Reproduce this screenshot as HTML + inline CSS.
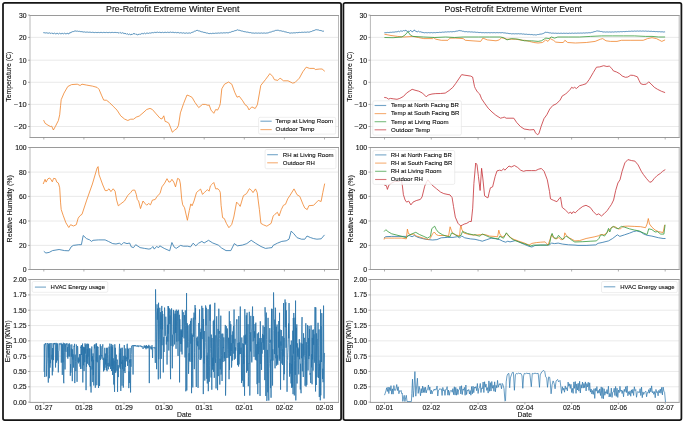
<!DOCTYPE html><html><head><meta charset="utf-8"><style>html,body{margin:0;padding:0;background:#fff;}svg{display:block;will-change:transform}</style></head><body>
<svg width="685" height="423" viewBox="0 0 685 423" font-family='"Liberation Sans", sans-serif'>
<rect x="0" y="0" width="685" height="423" fill="#fff"/>
<rect x="3.0" y="2.8" width="338.10" height="417.2" rx="1.8" ry="1.8" fill="none" stroke="#151515" stroke-width="1.75"/>
<text x="106.00" y="11.80" font-size="8.34" fill="#0d0d0d" stroke="#0d0d0d" stroke-width="0.1" text-anchor="start" textLength="133.44" lengthAdjust="spacingAndGlyphs">Pre-Retrofit Extreme Winter Event</text>
<line x1="30.0" x2="338.5" y1="37.40" y2="37.40" stroke="#e4e4e4" stroke-width="0.8"/>
<line x1="30.0" x2="338.5" y1="60.20" y2="60.20" stroke="#e4e4e4" stroke-width="0.8"/>
<line x1="30.0" x2="338.5" y1="82.30" y2="82.30" stroke="#e4e4e4" stroke-width="0.8"/>
<line x1="30.0" x2="338.5" y1="104.40" y2="104.40" stroke="#e4e4e4" stroke-width="0.8"/>
<line x1="30.0" x2="338.5" y1="126.50" y2="126.50" stroke="#e4e4e4" stroke-width="0.8"/>
<polyline points="43.30,32.61 44.09,32.87 44.87,32.71 45.66,32.99 46.44,32.81 47.23,33.07 48.01,32.97 48.80,33.24 49.61,32.88 50.42,33.50 51.24,32.84 52.05,33.68 52.86,33.00 53.67,33.81 54.49,33.17 55.30,33.86 56.12,33.23 56.95,34.02 57.77,33.26 58.60,33.99 59.42,33.22 60.25,33.84 61.07,33.20 61.90,33.96 62.73,33.31 63.55,33.83 64.38,33.18 65.20,33.93 66.03,33.21 66.85,34.02 67.67,33.21 68.50,34.03 69.33,32.89 70.15,33.21 70.97,32.07 71.80,32.15 72.60,31.61 73.40,31.58 74.20,31.16 75.00,31.09 75.88,30.93 76.76,31.27 77.64,31.12 78.52,31.42 79.40,31.29 80.28,31.62 81.16,31.54 82.04,31.88 82.92,31.76 83.80,32.14 84.58,31.91 85.36,32.22 86.14,31.97 86.91,32.29 87.69,32.05 88.47,32.30 89.25,32.11 90.03,32.43 90.81,32.18 91.59,32.47 92.36,32.26 93.14,32.52 93.92,32.33 94.70,32.62 95.49,32.40 96.27,32.58 97.06,32.36 97.84,32.65 98.63,32.42 99.41,32.64 100.20,32.39 100.99,32.59 101.77,32.40 102.56,32.63 103.34,32.36 104.13,32.58 104.91,32.38 105.70,32.58 106.48,32.37 107.26,32.60 108.04,32.36 108.81,32.65 109.59,32.39 110.37,32.65 111.15,32.40 111.93,32.58 112.71,32.38 113.49,32.58 114.26,32.41 115.04,32.61 115.82,32.38 116.60,32.59 117.42,32.50 118.25,33.07 119.08,32.43 119.90,33.24 120.72,32.45 121.55,33.26 122.38,32.70 123.20,33.44 124.08,32.95 124.96,33.90 125.84,33.41 126.72,34.34 127.60,33.76 128.48,34.60 129.36,34.00 130.24,34.77 131.12,34.16 132.00,34.79 133.10,33.60 134.20,33.94 135.00,33.53 135.80,34.38 136.60,34.11 137.40,35.06 138.19,34.31 138.97,34.75 139.76,33.86 140.54,34.31 141.33,33.55 142.11,34.09 142.90,33.22 143.72,33.84 144.55,33.09 145.38,33.80 146.20,33.12 147.03,33.42 147.85,33.02 148.68,33.41 149.50,32.94 150.31,33.18 151.12,32.70 151.94,32.97 152.75,32.53 153.56,32.76 154.38,32.33 155.19,32.60 156.00,32.14 156.82,32.50 157.65,32.13 158.47,32.50 159.30,32.20 160.12,32.64 160.95,32.29 161.78,32.63 162.60,32.27 163.40,32.64 164.20,32.32 165.00,32.62 165.80,32.22 166.60,32.55 167.40,32.23 168.20,32.54 169.00,32.13 169.80,32.52 170.60,32.09 171.40,32.45 172.22,32.18 173.05,32.61 173.88,32.21 174.70,32.68 175.53,32.40 176.35,32.74 177.18,32.46 178.00,32.85 178.78,32.52 179.56,33.02 180.33,32.69 181.11,33.04 181.89,32.70 182.67,33.17 183.44,32.79 184.22,33.22 185.00,32.96 185.79,33.26 186.57,32.88 187.36,33.26 188.14,32.93 188.93,33.28 189.71,32.92 190.50,33.21 191.31,32.61 192.12,32.49 192.94,31.97 193.75,31.85 194.56,31.21 195.38,31.15 196.19,30.54 197.00,30.45 197.79,30.40 198.57,30.88 199.36,30.90 200.14,31.41 200.93,31.39 201.71,31.87 202.50,31.90 203.32,32.30 204.15,32.31 204.97,32.68 205.80,32.68 206.62,33.10 207.45,33.06 208.28,33.48 209.10,33.46 209.89,33.68 210.68,33.36 211.47,33.61 212.26,33.28 213.05,33.49 213.85,33.25 214.64,33.41 215.43,33.15 216.22,33.29 217.01,33.02 217.80,33.21 218.59,32.97 219.37,33.19 220.16,32.89 220.94,33.09 221.73,32.86 222.51,33.07 223.30,32.79 224.09,33.01 224.87,32.74 225.66,32.90 226.44,32.67 227.23,32.89 228.01,32.64 228.80,32.83 229.60,32.30 230.40,32.33 231.20,31.80 232.00,31.76 232.80,31.31 233.60,31.31 234.40,30.84 235.20,30.76 236.00,30.31 236.80,30.27 237.60,29.79 238.41,30.22 239.22,30.19 240.04,30.61 240.85,30.67 241.66,31.05 242.47,31.09 243.29,31.47 244.10,31.45 244.90,31.88 245.70,31.79 246.50,32.12 247.30,32.05 248.10,32.38 248.90,32.32 249.70,32.68 250.50,32.57 251.30,32.93 252.10,32.87 252.90,33.20 253.69,33.02 254.48,33.22 255.27,32.97 256.06,33.20 256.84,33.02 257.63,33.19 258.42,33.00 259.21,33.22 260.00,32.97 260.79,33.20 261.58,32.96 262.37,33.22 263.16,32.99 263.94,33.20 264.73,32.99 265.52,33.23 266.31,32.99 267.10,33.23 267.86,32.76 268.62,32.73 269.38,32.29 270.15,32.30 270.91,31.87 271.67,31.82 272.43,31.38 273.19,31.39 273.95,30.88 274.72,30.90 275.48,30.42 276.24,30.47 277.00,30.01 277.81,30.37 278.62,30.34 279.44,30.72 280.25,30.63 281.06,31.05 281.88,30.94 282.69,31.36 283.50,31.27 284.32,31.73 285.15,31.74 285.98,32.16 286.80,32.17 287.62,32.55 288.45,32.54 289.28,32.97 290.10,33.02 290.90,33.13 291.70,32.85 292.50,33.02 293.30,32.81 294.10,32.97 294.90,32.69 295.70,32.86 296.50,32.54 297.30,32.75 298.10,32.41 298.90,32.62 299.68,32.33 300.46,32.51 301.24,32.26 302.01,32.47 302.79,32.19 303.57,32.37 304.35,32.12 305.13,32.36 305.91,32.10 306.69,32.24 307.46,31.99 308.24,32.21 309.02,31.94 309.80,32.09 310.62,31.61 311.45,31.52 312.27,30.97 313.10,30.90 313.93,30.40 314.75,30.30 315.57,29.80 316.40,29.71 317.16,29.70 317.92,30.07 318.68,29.99 319.44,30.43 320.20,30.37 320.96,30.77 321.72,30.73 322.48,31.17 323.24,31.09 324.00,31.40" fill="none" stroke="#2a74aa" stroke-width="0.8" stroke-linejoin="round" stroke-opacity="1"/><polyline points="43.60,120.10 45.10,123.30 48.00,125.20 50.40,126.50 51.70,126.20 53.40,130.00 55.50,126.20 58.40,120.50 59.70,114.80 60.60,105.40 61.20,99.70 64.00,93.10 67.80,86.50 71.60,84.60 77.30,84.20 80.10,85.50 82.00,84.20 86.70,85.10 92.40,86.10 97.10,87.40 99.00,89.30 101.80,95.90 103.70,100.10 106.60,100.30 109.40,102.50 113.20,106.30 117.00,110.10 120.70,115.80 124.50,119.00 127.80,120.50 130.70,119.20 133.50,119.20 136.30,117.10 139.20,116.10 143.00,112.90 146.70,109.50 150.00,108.40 152.40,109.50 156.20,113.90 160.00,118.20 161.90,119.00 163.80,115.80 165.10,121.40 167.00,122.00 168.90,123.30 170.40,127.10 172.30,132.20 174.50,130.30 177.00,128.40 178.50,125.20 180.40,112.90 183.60,103.50 187.00,95.00 189.30,95.90 192.10,97.40 195.00,102.50 198.70,107.60 202.50,104.40 205.30,104.40 208.20,105.40 209.10,104.80 211.00,110.10 213.80,113.30 215.70,109.50 217.60,110.10 219.50,106.30 220.30,103.50 221.80,88.80 224.50,84.20 228.60,82.00 231.80,84.20 234.70,92.20 237.00,97.20 239.30,96.30 242.70,100.80 245.00,104.70 247.20,106.20 249.00,109.90 251.80,106.90 255.20,108.50 257.40,104.70 260.80,85.40 265.40,79.70 269.90,73.60 272.60,76.30 274.40,79.70 277.80,80.40 280.10,78.10 283.50,80.80 288.00,80.80 292.60,83.10 294.90,82.60 299.40,78.10 302.80,71.80 306.20,67.20 309.60,68.40 314.10,68.40 315.30,69.50 319.80,69.00 322.10,69.00 324.80,71.30" fill="none" stroke="#f0832a" stroke-width="0.8" stroke-linejoin="round" stroke-opacity="1"/><rect x="258.6" y="117.3" width="77.10" height="16.80" rx="1.5" fill="#fff" fill-opacity="0.8" stroke="#e2e2e2" stroke-width="0.6"/>
<line x1="260.4" x2="271.7" y1="121.2" y2="121.2" stroke="#2a74aa" stroke-width="1.1" stroke-opacity="0.65"/>
<text x="275.60" y="123.05" font-size="5.83" fill="#0d0d0d" stroke="#0d0d0d" stroke-width="0.1" text-anchor="start" textLength="57.44" lengthAdjust="spacingAndGlyphs">Temp at Living Room</text>
<line x1="260.4" x2="271.7" y1="129.6" y2="129.6" stroke="#f0832a" stroke-width="1.1" stroke-opacity="0.65"/>
<text x="275.60" y="131.45" font-size="5.83" fill="#0d0d0d" stroke="#0d0d0d" stroke-width="0.1" text-anchor="start" textLength="38.86" lengthAdjust="spacingAndGlyphs">Outdoor Temp</text>
<line x1="30.0" x2="30.0" y1="15.5" y2="137.5" stroke="#b8b8b8" stroke-width="1"/>
<line x1="338.5" x2="338.5" y1="15.5" y2="137.5" stroke="#b8b8b8" stroke-width="1"/>
<line x1="29.5" x2="339.0" y1="15.5" y2="15.5" stroke="#9a9a9a" stroke-width="1"/>
<line x1="29.5" x2="339.0" y1="137.5" y2="137.5" stroke="#9a9a9a" stroke-width="1"/>
<line x1="28.0" x2="30.0" y1="15.10" y2="15.10" stroke="#8c8c8c" stroke-width="0.7"/>
<text x="26.70" y="17.60" font-size="6.36" fill="#0d0d0d" stroke="#0d0d0d" stroke-width="0.1" text-anchor="end" textLength="7.63" lengthAdjust="spacingAndGlyphs">30</text>
<line x1="28.0" x2="30.0" y1="37.40" y2="37.40" stroke="#8c8c8c" stroke-width="0.7"/>
<text x="26.70" y="39.90" font-size="6.36" fill="#0d0d0d" stroke="#0d0d0d" stroke-width="0.1" text-anchor="end" textLength="7.63" lengthAdjust="spacingAndGlyphs">20</text>
<line x1="28.0" x2="30.0" y1="60.20" y2="60.20" stroke="#8c8c8c" stroke-width="0.7"/>
<text x="26.70" y="62.70" font-size="6.36" fill="#0d0d0d" stroke="#0d0d0d" stroke-width="0.1" text-anchor="end" textLength="7.63" lengthAdjust="spacingAndGlyphs">10</text>
<line x1="28.0" x2="30.0" y1="82.30" y2="82.30" stroke="#8c8c8c" stroke-width="0.7"/>
<text x="26.70" y="84.80" font-size="6.36" fill="#0d0d0d" stroke="#0d0d0d" stroke-width="0.1" text-anchor="end" textLength="3.82" lengthAdjust="spacingAndGlyphs">0</text>
<line x1="28.0" x2="30.0" y1="104.40" y2="104.40" stroke="#8c8c8c" stroke-width="0.7"/>
<text x="26.70" y="106.90" font-size="6.36" fill="#0d0d0d" stroke="#0d0d0d" stroke-width="0.1" text-anchor="end" textLength="12.66" lengthAdjust="spacingAndGlyphs">−10</text>
<line x1="28.0" x2="30.0" y1="126.50" y2="126.50" stroke="#8c8c8c" stroke-width="0.7"/>
<text x="26.70" y="129.00" font-size="6.36" fill="#0d0d0d" stroke="#0d0d0d" stroke-width="0.1" text-anchor="end" textLength="12.66" lengthAdjust="spacingAndGlyphs">−20</text>
<line x1="43.80" x2="43.80" y1="137.5" y2="139.5" stroke="#8c8c8c" stroke-width="0.7"/>
<line x1="83.90" x2="83.90" y1="137.5" y2="139.5" stroke="#8c8c8c" stroke-width="0.7"/>
<line x1="124.00" x2="124.00" y1="137.5" y2="139.5" stroke="#8c8c8c" stroke-width="0.7"/>
<line x1="164.10" x2="164.10" y1="137.5" y2="139.5" stroke="#8c8c8c" stroke-width="0.7"/>
<line x1="204.20" x2="204.20" y1="137.5" y2="139.5" stroke="#8c8c8c" stroke-width="0.7"/>
<line x1="244.30" x2="244.30" y1="137.5" y2="139.5" stroke="#8c8c8c" stroke-width="0.7"/>
<line x1="284.40" x2="284.40" y1="137.5" y2="139.5" stroke="#8c8c8c" stroke-width="0.7"/>
<line x1="324.50" x2="324.50" y1="137.5" y2="139.5" stroke="#8c8c8c" stroke-width="0.7"/>
<g transform="translate(11.20,76.80) rotate(-90)"><text x="0.00" y="0.00" font-size="6.52" fill="#0d0d0d" stroke="#0d0d0d" stroke-width="0.1" text-anchor="middle" textLength="50.01" lengthAdjust="spacingAndGlyphs">Temperature (C)</text></g>
<line x1="30.0" x2="338.5" y1="172.10" y2="172.10" stroke="#e4e4e4" stroke-width="0.8"/>
<line x1="30.0" x2="338.5" y1="196.40" y2="196.40" stroke="#e4e4e4" stroke-width="0.8"/>
<line x1="30.0" x2="338.5" y1="221.00" y2="221.00" stroke="#e4e4e4" stroke-width="0.8"/>
<line x1="30.0" x2="338.5" y1="245.40" y2="245.40" stroke="#e4e4e4" stroke-width="0.8"/>
<polyline points="43.80,251.30 45.90,253.00 49.20,252.40 52.50,250.60 59.10,249.50 64.60,250.60 68.90,250.80 71.10,246.90 73.30,245.40 78.80,244.70 81.40,244.70 83.20,235.50 86.50,238.60 89.70,239.90 91.50,241.40 93.00,240.30 98.50,239.90 105.10,239.90 108.40,241.40 112.70,243.60 116.00,244.00 119.30,243.20 121.50,244.70 123.70,242.50 127.00,243.60 129.60,243.00 131.30,246.90 133.50,247.60 135.70,244.70 140.10,247.60 144.50,248.40 148.90,249.10 151.00,248.60 152.80,246.50 154.30,249.10 156.50,246.50 158.70,247.60 159.80,245.80 164.20,248.40 169.70,250.80 171.90,242.50 174.00,246.90 176.20,248.40 180.60,245.40 183.30,246.20 187.70,246.20 190.50,246.90 193.10,243.20 195.80,245.80 198.60,243.20 201.90,241.40 204.10,243.00 208.50,240.30 212.80,243.00 218.30,245.10 221.60,248.00 226.00,250.60 230.80,250.60 234.30,243.60 237.40,245.80 242.40,245.10 246.80,243.60 251.20,240.30 255.50,243.20 261.00,246.50 265.40,248.40 268.70,248.00 272.00,247.60 273.10,245.40 277.40,243.20 281.80,241.40 286.20,240.80 289.00,239.20 291.20,231.10 293.90,233.80 297.10,237.70 301.50,239.20 304.80,239.20 307.00,236.00 310.30,237.50 313.60,238.60 316.90,239.20 321.20,238.80 324.50,234.90" fill="none" stroke="#2a74aa" stroke-width="0.8" stroke-linejoin="round" stroke-opacity="1"/><polyline points="43.20,184.00 45.10,179.30 46.10,182.10 48.00,178.70 49.80,178.00 51.20,179.90 52.30,181.80 53.60,178.40 55.50,178.70 56.80,182.10 58.40,183.10 59.70,187.80 60.60,202.90 61.20,209.50 63.10,215.20 65.90,222.80 68.80,227.50 70.60,224.70 73.50,226.00 76.30,224.70 78.20,218.10 80.10,215.60 82.00,214.30 86.70,200.10 92.40,184.00 97.10,168.00 98.10,166.60 99.00,174.60 102.80,185.00 105.20,190.60 107.10,190.60 109.00,188.80 110.90,191.60 113.20,188.80 115.10,191.20 116.60,200.10 118.30,205.80 120.70,203.90 124.50,201.00 125.00,200.10 127.80,195.40 130.70,192.50 132.60,190.10 134.80,190.10 136.30,194.40 137.30,199.50 138.60,201.00 140.50,208.60 143.00,201.00 145.40,203.90 146.70,205.20 148.60,203.50 150.50,204.80 152.40,200.10 155.20,199.50 157.10,196.30 160.00,193.50 161.90,186.90 164.70,183.10 167.00,178.70 168.90,182.10 170.40,181.80 171.90,179.30 173.80,182.10 175.50,186.90 177.60,178.40 179.40,179.30 180.40,184.00 181.70,199.10 182.70,204.80 184.50,207.70 187.40,220.30 189.30,210.50 190.80,203.90 192.10,205.80 194.00,201.00 196.50,192.50 198.70,190.60 200.60,189.10 202.50,194.40 204.40,192.50 206.30,190.60 207.60,189.70 209.10,191.20 210.40,185.90 212.30,184.00 213.80,182.50 215.70,188.80 218.00,188.80 219.50,190.60 220.30,192.60 221.10,205.30 222.60,217.70 224.30,218.50 226.40,223.40 228.90,227.70 231.70,224.50 233.80,217.00 236.60,202.10 238.70,204.30 240.20,206.40 243.40,195.70 246.60,193.60 249.40,188.70 251.50,190.40 253.00,192.60 255.50,188.90 257.20,192.60 259.40,209.60 260.90,223.40 263.60,224.90 266.80,226.20 271.10,223.40 273.20,216.00 274.90,214.30 277.40,212.30 279.10,216.00 281.30,209.60 283.40,205.30 285.50,204.30 287.70,198.90 290.20,195.10 294.00,188.90 297.00,194.70 299.80,196.40 303.00,204.30 304.70,207.90 307.20,209.60 308.90,205.70 313.60,205.30 318.30,200.40 321.10,201.50 322.80,192.60 324.70,183.60" fill="none" stroke="#f0832a" stroke-width="0.8" stroke-linejoin="round" stroke-opacity="1"/><rect x="265.1" y="149.5" width="70.90" height="19.20" rx="1.5" fill="#fff" fill-opacity="0.8" stroke="#e2e2e2" stroke-width="0.6"/>
<line x1="267.2" x2="277.9" y1="154.7" y2="154.7" stroke="#2a74aa" stroke-width="1.1" stroke-opacity="0.65"/>
<text x="282.80" y="156.55" font-size="5.83" fill="#0d0d0d" stroke="#0d0d0d" stroke-width="0.1" text-anchor="start" textLength="50.74" lengthAdjust="spacingAndGlyphs">RH at Living Room</text>
<line x1="267.2" x2="277.9" y1="162.8" y2="162.8" stroke="#f0832a" stroke-width="1.1" stroke-opacity="0.65"/>
<text x="282.80" y="164.65" font-size="5.83" fill="#0d0d0d" stroke="#0d0d0d" stroke-width="0.1" text-anchor="start" textLength="32.16" lengthAdjust="spacingAndGlyphs">Outdoor RH</text>
<line x1="30.0" x2="30.0" y1="147.5" y2="269.5" stroke="#b8b8b8" stroke-width="1"/>
<line x1="338.5" x2="338.5" y1="147.5" y2="269.5" stroke="#b8b8b8" stroke-width="1"/>
<line x1="29.5" x2="339.0" y1="147.5" y2="147.5" stroke="#9a9a9a" stroke-width="1"/>
<line x1="29.5" x2="339.0" y1="269.5" y2="269.5" stroke="#9a9a9a" stroke-width="1"/>
<line x1="28.0" x2="30.0" y1="147.50" y2="147.50" stroke="#8c8c8c" stroke-width="0.7"/>
<text x="26.70" y="150.00" font-size="6.36" fill="#0d0d0d" stroke="#0d0d0d" stroke-width="0.1" text-anchor="end" textLength="11.45" lengthAdjust="spacingAndGlyphs">100</text>
<line x1="28.0" x2="30.0" y1="172.10" y2="172.10" stroke="#8c8c8c" stroke-width="0.7"/>
<text x="26.70" y="174.60" font-size="6.36" fill="#0d0d0d" stroke="#0d0d0d" stroke-width="0.1" text-anchor="end" textLength="7.63" lengthAdjust="spacingAndGlyphs">80</text>
<line x1="28.0" x2="30.0" y1="196.40" y2="196.40" stroke="#8c8c8c" stroke-width="0.7"/>
<text x="26.70" y="198.90" font-size="6.36" fill="#0d0d0d" stroke="#0d0d0d" stroke-width="0.1" text-anchor="end" textLength="7.63" lengthAdjust="spacingAndGlyphs">60</text>
<line x1="28.0" x2="30.0" y1="221.00" y2="221.00" stroke="#8c8c8c" stroke-width="0.7"/>
<text x="26.70" y="223.50" font-size="6.36" fill="#0d0d0d" stroke="#0d0d0d" stroke-width="0.1" text-anchor="end" textLength="7.63" lengthAdjust="spacingAndGlyphs">40</text>
<line x1="28.0" x2="30.0" y1="245.40" y2="245.40" stroke="#8c8c8c" stroke-width="0.7"/>
<text x="26.70" y="247.90" font-size="6.36" fill="#0d0d0d" stroke="#0d0d0d" stroke-width="0.1" text-anchor="end" textLength="7.63" lengthAdjust="spacingAndGlyphs">20</text>
<line x1="28.0" x2="30.0" y1="269.50" y2="269.50" stroke="#8c8c8c" stroke-width="0.7"/>
<text x="26.70" y="272.00" font-size="6.36" fill="#0d0d0d" stroke="#0d0d0d" stroke-width="0.1" text-anchor="end" textLength="3.82" lengthAdjust="spacingAndGlyphs">0</text>
<line x1="43.80" x2="43.80" y1="269.5" y2="271.5" stroke="#8c8c8c" stroke-width="0.7"/>
<line x1="83.90" x2="83.90" y1="269.5" y2="271.5" stroke="#8c8c8c" stroke-width="0.7"/>
<line x1="124.00" x2="124.00" y1="269.5" y2="271.5" stroke="#8c8c8c" stroke-width="0.7"/>
<line x1="164.10" x2="164.10" y1="269.5" y2="271.5" stroke="#8c8c8c" stroke-width="0.7"/>
<line x1="204.20" x2="204.20" y1="269.5" y2="271.5" stroke="#8c8c8c" stroke-width="0.7"/>
<line x1="244.30" x2="244.30" y1="269.5" y2="271.5" stroke="#8c8c8c" stroke-width="0.7"/>
<line x1="284.40" x2="284.40" y1="269.5" y2="271.5" stroke="#8c8c8c" stroke-width="0.7"/>
<line x1="324.50" x2="324.50" y1="269.5" y2="271.5" stroke="#8c8c8c" stroke-width="0.7"/>
<g transform="translate(12.10,208.80) rotate(-90)"><text x="0.00" y="0.00" font-size="6.52" fill="#0d0d0d" stroke="#0d0d0d" stroke-width="0.1" text-anchor="middle" textLength="67.24" lengthAdjust="spacingAndGlyphs">Relative Humidity (%)</text></g>
<line x1="30.0" x2="338.5" y1="386.79" y2="386.79" stroke="#e4e4e4" stroke-width="0.8"/>
<line x1="30.0" x2="338.5" y1="371.48" y2="371.48" stroke="#e4e4e4" stroke-width="0.8"/>
<line x1="30.0" x2="338.5" y1="356.16" y2="356.16" stroke="#e4e4e4" stroke-width="0.8"/>
<line x1="30.0" x2="338.5" y1="340.85" y2="340.85" stroke="#e4e4e4" stroke-width="0.8"/>
<line x1="30.0" x2="338.5" y1="325.54" y2="325.54" stroke="#e4e4e4" stroke-width="0.8"/>
<line x1="30.0" x2="338.5" y1="310.23" y2="310.23" stroke="#e4e4e4" stroke-width="0.8"/>
<line x1="30.0" x2="338.5" y1="294.91" y2="294.91" stroke="#e4e4e4" stroke-width="0.8"/>
<polyline points="43.80,371.48 44.05,371.48 44.30,344.25 44.55,364.02 44.80,377.01 45.05,343.59 45.30,343.73 45.55,344.36 45.80,343.01 46.05,344.11 46.30,347.94 46.55,376.44 46.80,364.49 47.05,360.03 47.30,344.31 47.55,343.03 47.80,343.46 48.05,358.51 48.30,382.57 48.55,344.15 48.80,357.49 49.05,343.45 49.30,378.22 49.55,352.51 49.80,343.47 50.05,367.64 50.30,360.06 50.55,363.18 50.80,343.13 51.05,343.63 51.30,343.30 51.55,354.82 51.80,359.58 52.05,354.43 52.30,375.34 52.55,347.99 52.80,371.52 53.05,343.24 53.30,347.10 53.55,360.12 53.80,343.30 54.05,343.68 54.30,344.31 54.55,343.11 54.80,344.07 55.05,342.92 55.30,343.70 55.55,367.49 55.80,349.47 56.05,343.76 56.30,342.90 56.55,362.58 56.80,344.10 57.05,343.63 57.30,360.52 57.55,343.76 57.80,343.48 58.05,352.66 58.30,372.38 58.55,364.36 58.80,351.02 59.05,350.69 59.30,343.79 59.55,343.36 59.80,344.40 60.05,344.23 60.30,344.43 60.55,344.25 60.80,343.86 61.05,342.92 61.30,362.62 61.55,343.89 61.80,344.30 62.05,347.10 62.30,374.83 62.55,344.34 62.80,344.04 63.05,362.38 63.30,342.78 63.55,381.03 63.80,383.23 64.05,365.75 64.30,352.56 64.55,343.85 64.80,343.11 65.05,369.41 65.30,344.12 65.55,347.25 65.80,350.54 66.05,351.75 66.30,343.57 66.55,344.47 66.80,344.01 67.05,343.25 67.30,357.13 67.55,347.19 67.80,358.65 68.05,344.11 68.30,344.15 68.55,348.81 68.80,356.54 69.05,350.66 69.30,343.31 69.55,350.98 69.80,356.57 70.05,344.59 70.30,375.74 70.55,364.20 70.80,372.62 71.05,368.35 71.30,348.50 71.55,356.66 71.80,344.36 72.05,359.40 72.30,381.15 72.55,349.34 72.80,359.54 73.05,354.32 73.30,355.46 73.55,367.60 73.80,347.63 74.05,345.83 74.30,346.86 74.55,343.85 74.80,383.09 75.05,354.86 75.30,354.61 75.55,361.70 75.80,371.13 76.05,368.11 76.30,344.53 76.55,346.52 76.80,361.25 77.05,381.80 77.30,357.06 77.55,345.99 77.80,347.73 78.05,362.15 78.30,357.51 78.55,363.33 78.80,362.19 79.05,358.75 79.30,361.68 79.55,354.17 79.80,355.37 80.05,366.70 80.30,354.14 80.55,368.96 80.80,346.72 81.05,347.95 81.30,345.32 81.55,354.99 81.80,345.04 82.05,368.85 82.30,353.70 82.55,343.59 82.80,382.47 83.05,356.18 83.30,346.78 83.55,365.24 83.80,347.47 84.05,371.12 84.30,363.38 84.55,347.39 84.80,362.06 85.05,343.39 85.30,353.62 85.55,347.80 85.80,344.65 86.05,390.14 86.30,354.73 86.55,366.72 86.80,343.80 87.05,358.60 87.30,349.07 87.55,363.66 87.80,343.68 88.05,356.75 88.30,344.18 88.55,344.14 88.80,365.24 89.05,354.45 89.30,348.63 89.55,367.09 89.80,348.44 90.05,348.19 90.30,386.37 90.55,366.15 90.80,368.21 91.05,392.52 91.30,349.33 91.55,361.35 91.80,346.52 92.05,369.52 92.30,363.53 92.55,356.14 92.80,382.05 93.05,353.42 93.30,375.07 93.55,359.79 93.80,385.46 94.05,348.63 94.30,344.89 94.55,348.43 94.80,344.27 95.05,359.15 95.30,387.72 95.55,383.06 95.80,346.69 96.05,343.53 96.30,361.42 96.55,343.51 96.80,385.27 97.05,347.09 97.30,362.24 97.55,346.33 97.80,347.81 98.05,346.98 98.30,349.29 98.55,387.92 98.80,361.75 99.05,359.39 99.30,355.32 99.55,385.92 99.80,368.73 100.05,359.66 100.30,344.31 100.55,359.95 100.80,356.55 101.05,346.22 101.30,356.13 101.55,356.29 101.80,355.07 102.05,358.74 102.30,349.23 102.55,347.22 102.80,344.31 103.05,359.94 103.30,358.97 103.55,371.41 103.80,357.73 104.05,361.64 104.30,370.26 104.55,366.84 104.80,347.80 105.05,367.70 105.30,353.55 105.55,364.45 105.80,358.91 106.05,360.14 106.30,370.05 106.55,347.87 106.80,365.88 107.05,371.25 107.30,347.78 107.55,358.76 107.80,366.13 108.05,362.94 108.30,369.30 108.55,367.81 108.80,354.27 109.05,346.61 109.30,353.69 109.55,366.54 109.80,343.63 110.05,345.86 110.30,346.22 110.55,369.04 110.80,362.13 111.05,358.55 111.30,343.93 111.55,371.02 111.80,346.41 112.05,365.93 112.30,347.32 112.55,374.90 112.80,344.83 113.05,369.27 113.30,358.37 113.55,366.15 113.80,384.49 114.05,360.65 114.30,383.74 114.55,391.88 114.80,344.31 115.05,372.86 115.30,347.80 115.55,367.99 115.80,372.41 116.05,356.56 116.30,354.69 116.55,361.38 116.80,370.57 117.05,363.19 117.30,359.63 117.55,391.86 117.80,369.14 118.05,365.16 118.30,377.07 118.55,366.69 118.80,365.95 119.05,364.23 119.30,348.43 119.55,343.88 119.80,367.43 120.05,353.16 120.30,368.91 120.55,348.87 120.80,390.96 121.05,347.84 121.30,355.17 121.55,363.89 121.80,361.84 122.05,385.66 122.30,347.73 122.55,369.16 122.80,359.91 123.05,367.51 123.30,387.59 123.55,383.35 123.80,355.88 124.05,371.07 124.30,345.08 124.55,362.78 124.80,371.47 125.05,373.04 125.30,355.76 125.55,366.91 125.80,348.48 126.05,358.94 126.30,358.21 126.55,357.42 126.80,361.34 127.05,344.63 127.30,343.79 127.55,365.89 127.80,347.88 128.05,358.64 128.30,348.99 128.55,360.76 128.80,388.12 129.05,371.28 129.30,383.04 129.55,359.63 129.80,362.74 130.05,347.91 130.30,358.53 130.55,392.45 130.80,359.08 131.05,366.75 131.30,354.48 131.55,345.86 131.80,346.17 132.05,345.75 132.30,345.65 132.55,345.29 132.80,346.03 133.05,374.54 133.30,345.29 133.55,345.66 133.80,346.12 134.05,345.02 134.30,346.02 134.55,345.29 134.80,346.19 135.05,346.23 135.30,345.46 135.55,346.17 135.80,345.23 136.05,345.92 136.30,346.40 136.55,346.38 136.80,346.12 137.05,345.78 137.30,345.39 137.55,346.59 137.80,346.25 138.05,346.54 138.30,345.45 138.55,346.70 138.80,346.86 139.05,346.87 139.30,346.41 139.55,345.69 139.80,345.74 140.05,345.98 140.30,345.62 140.55,345.74 140.80,346.65 141.05,346.89 141.30,345.81 141.55,346.12 141.80,347.19 142.05,346.29 142.30,346.73 142.55,346.77 142.80,346.85 143.05,348.95 143.30,347.53 143.55,347.40 143.80,347.10 144.05,345.76 144.30,346.54 144.55,347.55 144.80,345.46 145.05,347.79 145.30,348.01 145.55,345.87 145.80,348.21 146.05,349.23 146.30,347.24 146.55,345.16 146.80,348.09 147.05,345.94 147.30,346.62 147.55,348.19 147.80,346.91 148.05,346.04 148.30,348.27 148.55,347.68 148.80,344.88 149.05,348.33 149.30,383.11 149.55,347.83 149.80,346.00 150.05,345.87 150.30,347.85 150.55,348.17 150.80,348.56 151.05,346.97 151.30,349.45 151.55,347.99 151.80,346.02 152.05,345.20 152.30,349.45 152.55,358.00 152.80,347.51 153.05,348.04 153.30,347.80 153.55,347.53 153.80,347.47 154.05,347.39 154.30,347.27 154.55,347.57 154.80,348.39 155.05,347.36 155.30,362.89 155.55,289.40 155.80,310.81 156.05,312.04 156.30,331.04 156.55,369.17 156.80,332.99 157.05,304.32 157.30,319.66 157.55,308.56 157.80,323.81 158.05,345.86 158.30,379.34 158.55,302.76 158.80,359.23 159.05,351.89 159.30,339.81 159.55,320.91 159.80,307.76 160.05,340.98 160.30,378.53 160.55,312.17 160.80,329.01 161.05,315.31 161.30,358.80 161.55,311.78 161.80,305.93 162.05,345.23 162.30,310.99 162.55,329.36 162.80,313.98 163.05,335.68 163.30,372.42 163.55,338.37 163.80,337.13 164.05,351.96 164.30,336.95 164.55,307.60 164.80,316.52 165.05,335.30 165.30,335.78 165.55,334.27 165.80,316.72 166.05,329.32 166.30,344.52 166.55,336.75 166.80,342.95 167.05,364.57 167.30,343.98 167.55,324.79 167.80,341.54 168.05,306.04 168.30,333.67 168.55,306.40 168.80,350.49 169.05,324.25 169.30,308.35 169.55,313.09 169.80,324.12 170.05,315.53 170.30,364.69 170.55,379.20 170.80,309.55 171.05,345.84 171.30,326.10 171.55,308.39 171.80,311.39 172.05,329.69 172.30,368.29 172.55,335.24 172.80,334.66 173.05,346.33 173.30,333.48 173.55,309.92 173.80,334.34 174.05,313.63 174.30,317.93 174.55,344.45 174.80,332.91 175.05,311.94 175.30,310.83 175.55,332.88 175.80,313.79 176.05,348.78 176.30,309.62 176.55,326.80 176.80,341.64 177.05,333.42 177.30,321.73 177.55,310.84 177.80,345.17 178.05,355.94 178.30,309.75 178.55,310.81 178.80,314.73 179.05,341.23 179.30,314.84 179.55,382.37 179.80,319.21 180.05,328.24 180.30,342.32 180.55,343.80 180.80,329.44 181.05,351.64 181.30,330.99 181.55,344.09 181.80,329.62 182.05,354.41 182.30,309.82 182.55,337.05 182.80,334.78 183.05,313.08 183.30,312.22 183.55,314.51 183.80,330.83 184.05,338.36 184.30,322.15 184.55,315.10 184.80,332.84 185.05,357.44 185.30,310.34 185.55,325.48 185.80,391.30 186.05,387.47 186.30,340.64 186.55,293.08 186.80,390.38 187.05,353.34 187.30,323.31 187.55,330.27 187.80,347.52 188.05,325.27 188.30,341.62 188.55,373.79 188.80,364.33 189.05,353.16 189.30,360.67 189.55,347.37 189.80,324.18 190.05,361.83 190.30,327.71 190.55,320.89 190.80,343.66 191.05,332.40 191.30,318.34 191.55,393.18 191.80,333.51 192.05,362.05 192.30,334.90 192.55,370.67 192.80,387.42 193.05,320.13 193.30,317.73 193.55,336.74 193.80,336.13 194.05,312.65 194.30,369.15 194.55,352.54 194.80,326.82 195.05,305.05 195.30,319.48 195.55,308.22 195.80,334.87 196.05,366.18 196.30,386.99 196.55,339.11 196.80,337.84 197.05,345.03 197.30,336.65 197.55,346.22 197.80,341.33 198.05,387.87 198.30,359.43 198.55,356.97 198.80,323.05 199.05,349.61 199.30,324.87 199.55,309.42 199.80,336.67 200.05,359.87 200.30,348.93 200.55,332.17 200.80,359.86 201.05,328.68 201.30,358.35 201.55,322.93 201.80,305.81 202.05,338.98 202.30,339.08 202.55,323.21 202.80,307.91 203.05,318.11 203.30,394.07 203.55,318.96 203.80,348.76 204.05,363.46 204.30,331.00 204.55,361.15 204.80,380.58 205.05,349.54 205.30,342.52 205.55,305.47 205.80,306.46 206.05,325.51 206.30,307.80 206.55,362.13 206.80,378.80 207.05,355.51 207.30,383.48 207.55,352.71 207.80,351.86 208.05,309.26 208.30,391.18 208.55,359.32 208.80,336.67 209.05,339.21 209.30,381.72 209.55,365.85 209.80,304.86 210.05,320.74 210.30,304.56 210.55,348.35 210.80,353.70 211.05,377.49 211.30,334.62 211.55,349.48 211.80,389.71 212.05,337.96 212.30,356.06 212.55,369.64 212.80,357.65 213.05,366.02 213.30,321.08 213.55,371.92 213.80,356.61 214.05,319.78 214.30,377.80 214.55,317.90 214.80,302.84 215.05,358.55 215.30,358.55 215.55,362.81 215.80,335.34 216.05,388.38 216.30,358.36 216.55,316.50 216.80,316.25 217.05,336.80 217.30,339.05 217.55,390.15 217.80,347.41 218.05,328.92 218.30,376.12 218.55,346.81 218.80,308.73 219.05,333.84 219.30,330.96 219.55,338.71 219.80,384.59 220.05,358.69 220.30,369.35 220.55,339.15 220.80,315.68 221.05,374.57 221.30,372.83 221.55,355.56 221.80,333.69 222.05,380.97 222.30,364.06 222.55,359.93 222.80,333.66 223.05,361.94 223.30,347.12 223.55,348.10 223.80,337.42 224.05,351.53 224.30,358.27 224.55,352.13 224.80,361.23 225.05,353.38 225.30,324.94 225.55,395.57 225.80,383.10 226.05,353.49 226.30,326.16 226.55,333.69 226.80,357.98 227.05,352.15 227.30,328.49 227.55,338.08 227.80,349.55 228.05,357.74 228.30,353.45 228.55,337.77 228.80,349.58 229.05,379.18 229.30,311.24 229.55,369.92 229.80,322.45 230.05,321.22 230.30,331.60 230.55,355.88 230.80,324.27 231.05,350.92 231.30,343.14 231.55,367.53 231.80,363.43 232.05,334.84 232.30,360.62 232.55,344.02 232.80,331.38 233.05,343.25 233.30,329.18 233.55,325.94 233.80,353.68 234.05,309.51 234.30,359.69 234.55,344.86 234.80,342.83 235.05,338.80 235.30,358.70 235.55,347.47 235.80,350.58 236.05,346.65 236.30,325.93 236.55,319.58 236.80,320.22 237.05,319.62 237.30,347.17 237.55,365.13 237.80,349.59 238.05,342.94 238.30,352.72 238.55,366.56 238.80,316.05 239.05,364.39 239.30,342.36 239.55,354.22 239.80,348.15 240.05,335.11 240.30,306.55 240.55,353.94 240.80,353.02 241.05,347.65 241.30,358.25 241.55,383.04 241.80,337.50 242.05,370.63 242.30,380.55 242.55,380.47 242.80,343.30 243.05,354.20 243.30,386.81 243.55,343.96 243.80,364.00 244.05,335.52 244.30,363.68 244.55,395.78 244.80,309.09 245.05,343.18 245.30,334.70 245.55,344.57 245.80,341.89 246.05,342.41 246.30,315.32 246.55,372.62 246.80,327.22 247.05,312.69 247.30,343.26 247.55,370.78 247.80,346.41 248.05,324.26 248.30,386.22 248.55,376.32 248.80,363.51 249.05,364.02 249.30,311.81 249.55,334.40 249.80,395.54 250.05,377.85 250.30,332.31 250.55,351.46 250.80,315.87 251.05,327.94 251.30,331.55 251.55,361.25 251.80,362.38 252.05,361.01 252.30,314.04 252.55,306.55 252.80,330.43 253.05,341.31 253.30,340.77 253.55,316.26 253.80,349.83 254.05,356.79 254.30,341.19 254.55,331.30 254.80,337.82 255.05,324.04 255.30,359.76 255.55,348.97 255.80,322.66 256.05,350.57 256.30,360.47 256.55,353.11 256.80,344.14 257.05,384.16 257.30,333.52 257.55,346.26 257.80,394.12 258.05,341.66 258.30,354.16 258.55,332.42 258.80,345.10 259.05,382.85 259.30,352.66 259.55,345.08 259.80,338.15 260.05,395.92 260.30,321.31 260.55,337.86 260.80,363.93 261.05,338.00 261.30,346.08 261.55,369.91 261.80,342.29 262.05,353.67 262.30,338.49 262.55,333.96 262.80,342.52 263.05,325.42 263.30,349.86 263.55,339.34 263.80,335.13 264.05,349.30 264.30,326.95 264.55,353.13 264.80,380.14 265.05,307.23 265.30,316.16 265.55,317.03 265.80,396.03 266.05,348.97 266.30,312.57 266.55,339.50 266.80,400.87 267.05,398.69 267.30,349.91 267.55,363.19 267.80,392.30 268.05,317.83 268.30,342.79 268.55,391.08 268.80,400.53 269.05,368.33 269.30,363.77 269.55,343.56 269.80,328.11 270.05,342.55 270.30,339.82 270.55,388.10 270.80,359.67 271.05,397.71 271.30,330.78 271.55,308.78 271.80,360.64 272.05,308.91 272.30,344.18 272.55,385.57 272.80,349.26 273.05,360.54 273.30,330.27 273.55,292.46 273.80,310.33 274.05,321.57 274.30,325.02 274.55,354.08 274.80,319.63 275.05,368.32 275.30,307.69 275.55,309.73 275.80,358.24 276.05,355.71 276.30,326.72 276.55,365.62 276.80,334.19 277.05,324.57 277.30,363.41 277.55,355.46 277.80,364.81 278.05,353.87 278.30,331.62 278.55,347.61 278.80,321.00 279.05,358.00 279.30,360.70 279.55,312.79 279.80,358.72 280.05,329.52 280.30,348.66 280.55,389.67 280.80,341.51 281.05,345.71 281.30,330.05 281.55,351.60 281.80,363.48 282.05,354.06 282.30,336.23 282.55,364.83 282.80,349.29 283.05,356.38 283.30,352.98 283.55,303.02 283.80,380.18 284.05,337.84 284.30,374.19 284.55,363.29 284.80,348.68 285.05,299.46 285.30,327.19 285.55,306.39 285.80,302.39 286.05,347.73 286.30,310.36 286.55,328.65 286.80,355.93 287.05,391.78 287.30,360.39 287.55,359.81 287.80,352.25 288.05,347.64 288.30,339.18 288.55,323.45 288.80,338.25 289.05,303.04 289.30,333.87 289.55,376.60 289.80,363.02 290.05,373.77 290.30,346.00 290.55,344.80 290.80,373.27 291.05,383.40 291.30,340.57 291.55,387.76 291.80,363.97 292.05,370.11 292.30,355.66 292.55,387.39 292.80,330.70 293.05,394.15 293.30,317.99 293.55,353.58 293.80,312.97 294.05,352.02 294.30,395.42 294.55,360.46 294.80,323.93 295.05,317.68 295.30,374.88 295.55,300.62 295.80,400.39 296.05,381.83 296.30,327.83 296.55,347.39 296.80,324.40 297.05,383.49 297.30,343.30 297.55,355.51 297.80,347.22 298.05,357.07 298.30,348.50 298.55,369.86 298.80,374.38 299.05,353.01 299.30,339.16 299.55,359.18 299.80,342.46 300.05,360.59 300.30,389.48 300.55,363.77 300.80,386.79 301.05,393.23 301.30,343.32 301.55,358.22 301.80,325.41 302.05,317.10 302.30,371.31 302.55,362.64 302.80,343.74 303.05,367.03 303.30,377.00 303.55,333.27 303.80,356.26 304.05,346.11 304.30,337.85 304.55,355.53 304.80,360.22 305.05,385.71 305.30,375.97 305.55,355.23 305.80,323.26 306.05,386.63 306.30,342.20 306.55,356.65 306.80,384.88 307.05,361.92 307.30,344.55 307.55,324.98 307.80,344.18 308.05,370.48 308.30,349.18 308.55,338.15 308.80,359.07 309.05,325.85 309.30,355.98 309.55,329.14 309.80,352.37 310.05,374.71 310.30,372.98 310.55,380.39 310.80,383.06 311.05,325.40 311.30,352.99 311.55,367.31 311.80,354.21 312.05,384.27 312.30,337.89 312.55,359.43 312.80,329.92 313.05,370.62 313.30,329.50 313.55,344.29 313.80,344.89 314.05,334.34 314.30,362.67 314.55,361.53 314.80,326.56 315.05,307.04 315.30,361.72 315.55,391.47 315.80,307.45 316.05,339.27 316.30,385.01 316.55,333.38 316.80,343.13 317.05,377.32 317.30,363.38 317.55,339.26 317.80,339.64 318.05,322.79 318.30,366.40 318.55,377.97 318.80,345.40 319.05,329.41 319.30,396.96 319.55,363.85 319.80,370.32 320.05,360.37 320.30,400.30 320.55,309.43 320.80,395.35 321.05,326.04 321.30,333.66 321.55,361.99 321.80,313.11 322.05,326.47 322.30,369.84 322.55,379.05 322.80,368.69 323.05,382.19 323.30,375.68 323.55,305.60 323.80,366.19 324.05,398.49 324.30,364.95 324.55,352.94" fill="none" stroke="#2a74aa" stroke-width="0.8" stroke-linejoin="round" stroke-opacity="1"/><rect x="32.2" y="281.5" width="75.60" height="10.80" rx="1.5" fill="#fff" fill-opacity="0.8" stroke="#e2e2e2" stroke-width="0.6"/>
<line x1="34.9" x2="46.0" y1="287.1" y2="287.1" stroke="#2a74aa" stroke-width="1.1" stroke-opacity="0.65"/>
<text x="50.60" y="288.95" font-size="5.83" fill="#0d0d0d" stroke="#0d0d0d" stroke-width="0.1" text-anchor="start" textLength="54.40" lengthAdjust="spacingAndGlyphs">HVAC Energy usage</text>
<line x1="30.0" x2="30.0" y1="279.5" y2="402.4" stroke="#b8b8b8" stroke-width="1"/>
<line x1="338.5" x2="338.5" y1="279.5" y2="402.4" stroke="#b8b8b8" stroke-width="1"/>
<line x1="29.5" x2="339.0" y1="279.5" y2="279.5" stroke="#9a9a9a" stroke-width="1"/>
<line x1="29.5" x2="339.0" y1="402.4" y2="402.4" stroke="#9a9a9a" stroke-width="1"/>
<line x1="28.0" x2="30.0" y1="402.10" y2="402.10" stroke="#8c8c8c" stroke-width="0.7"/>
<text x="26.70" y="404.60" font-size="6.36" fill="#0d0d0d" stroke="#0d0d0d" stroke-width="0.1" text-anchor="end" textLength="13.36" lengthAdjust="spacingAndGlyphs">0.00</text>
<line x1="28.0" x2="30.0" y1="386.79" y2="386.79" stroke="#8c8c8c" stroke-width="0.7"/>
<text x="26.70" y="389.29" font-size="6.36" fill="#0d0d0d" stroke="#0d0d0d" stroke-width="0.1" text-anchor="end" textLength="13.36" lengthAdjust="spacingAndGlyphs">0.25</text>
<line x1="28.0" x2="30.0" y1="371.48" y2="371.48" stroke="#8c8c8c" stroke-width="0.7"/>
<text x="26.70" y="373.98" font-size="6.36" fill="#0d0d0d" stroke="#0d0d0d" stroke-width="0.1" text-anchor="end" textLength="13.36" lengthAdjust="spacingAndGlyphs">0.50</text>
<line x1="28.0" x2="30.0" y1="356.16" y2="356.16" stroke="#8c8c8c" stroke-width="0.7"/>
<text x="26.70" y="358.66" font-size="6.36" fill="#0d0d0d" stroke="#0d0d0d" stroke-width="0.1" text-anchor="end" textLength="13.36" lengthAdjust="spacingAndGlyphs">0.75</text>
<line x1="28.0" x2="30.0" y1="340.85" y2="340.85" stroke="#8c8c8c" stroke-width="0.7"/>
<text x="26.70" y="343.35" font-size="6.36" fill="#0d0d0d" stroke="#0d0d0d" stroke-width="0.1" text-anchor="end" textLength="13.36" lengthAdjust="spacingAndGlyphs">1.00</text>
<line x1="28.0" x2="30.0" y1="325.54" y2="325.54" stroke="#8c8c8c" stroke-width="0.7"/>
<text x="26.70" y="328.04" font-size="6.36" fill="#0d0d0d" stroke="#0d0d0d" stroke-width="0.1" text-anchor="end" textLength="13.36" lengthAdjust="spacingAndGlyphs">1.25</text>
<line x1="28.0" x2="30.0" y1="310.23" y2="310.23" stroke="#8c8c8c" stroke-width="0.7"/>
<text x="26.70" y="312.73" font-size="6.36" fill="#0d0d0d" stroke="#0d0d0d" stroke-width="0.1" text-anchor="end" textLength="13.36" lengthAdjust="spacingAndGlyphs">1.50</text>
<line x1="28.0" x2="30.0" y1="294.91" y2="294.91" stroke="#8c8c8c" stroke-width="0.7"/>
<text x="26.70" y="297.41" font-size="6.36" fill="#0d0d0d" stroke="#0d0d0d" stroke-width="0.1" text-anchor="end" textLength="13.36" lengthAdjust="spacingAndGlyphs">1.75</text>
<line x1="28.0" x2="30.0" y1="279.60" y2="279.60" stroke="#8c8c8c" stroke-width="0.7"/>
<text x="26.70" y="282.10" font-size="6.36" fill="#0d0d0d" stroke="#0d0d0d" stroke-width="0.1" text-anchor="end" textLength="13.36" lengthAdjust="spacingAndGlyphs">2.00</text>
<line x1="43.80" x2="43.80" y1="402.4" y2="404.4" stroke="#8c8c8c" stroke-width="0.7"/>
<line x1="83.90" x2="83.90" y1="402.4" y2="404.4" stroke="#8c8c8c" stroke-width="0.7"/>
<line x1="124.00" x2="124.00" y1="402.4" y2="404.4" stroke="#8c8c8c" stroke-width="0.7"/>
<line x1="164.10" x2="164.10" y1="402.4" y2="404.4" stroke="#8c8c8c" stroke-width="0.7"/>
<line x1="204.20" x2="204.20" y1="402.4" y2="404.4" stroke="#8c8c8c" stroke-width="0.7"/>
<line x1="244.30" x2="244.30" y1="402.4" y2="404.4" stroke="#8c8c8c" stroke-width="0.7"/>
<line x1="284.40" x2="284.40" y1="402.4" y2="404.4" stroke="#8c8c8c" stroke-width="0.7"/>
<line x1="324.50" x2="324.50" y1="402.4" y2="404.4" stroke="#8c8c8c" stroke-width="0.7"/>
<g transform="translate(10.00,341.25) rotate(-90)"><text x="0.00" y="0.00" font-size="6.52" fill="#0d0d0d" stroke="#0d0d0d" stroke-width="0.1" text-anchor="middle" textLength="42.08" lengthAdjust="spacingAndGlyphs">Energy (KWh)</text></g>
<text x="43.80" y="409.80" font-size="6.36" fill="#0d0d0d" stroke="#0d0d0d" stroke-width="0.1" text-anchor="middle" textLength="17.43" lengthAdjust="spacingAndGlyphs">01-27</text>
<text x="83.90" y="409.80" font-size="6.36" fill="#0d0d0d" stroke="#0d0d0d" stroke-width="0.1" text-anchor="middle" textLength="17.43" lengthAdjust="spacingAndGlyphs">01-28</text>
<text x="124.00" y="409.80" font-size="6.36" fill="#0d0d0d" stroke="#0d0d0d" stroke-width="0.1" text-anchor="middle" textLength="17.43" lengthAdjust="spacingAndGlyphs">01-29</text>
<text x="164.10" y="409.80" font-size="6.36" fill="#0d0d0d" stroke="#0d0d0d" stroke-width="0.1" text-anchor="middle" textLength="17.43" lengthAdjust="spacingAndGlyphs">01-30</text>
<text x="204.20" y="409.80" font-size="6.36" fill="#0d0d0d" stroke="#0d0d0d" stroke-width="0.1" text-anchor="middle" textLength="17.43" lengthAdjust="spacingAndGlyphs">01-31</text>
<text x="244.30" y="409.80" font-size="6.36" fill="#0d0d0d" stroke="#0d0d0d" stroke-width="0.1" text-anchor="middle" textLength="17.43" lengthAdjust="spacingAndGlyphs">02-01</text>
<text x="284.40" y="409.80" font-size="6.36" fill="#0d0d0d" stroke="#0d0d0d" stroke-width="0.1" text-anchor="middle" textLength="17.43" lengthAdjust="spacingAndGlyphs">02-02</text>
<text x="324.50" y="409.80" font-size="6.36" fill="#0d0d0d" stroke="#0d0d0d" stroke-width="0.1" text-anchor="middle" textLength="17.43" lengthAdjust="spacingAndGlyphs">02-03</text>
<text x="184.25" y="416.80" font-size="6.36" fill="#0d0d0d" stroke="#0d0d0d" stroke-width="0.1" text-anchor="middle" textLength="14.34" lengthAdjust="spacingAndGlyphs">Date</text>
<rect x="343.4" y="2.8" width="338.00" height="417.2" rx="1.8" ry="1.8" fill="none" stroke="#151515" stroke-width="1.75"/>
<text x="444.40" y="11.80" font-size="8.34" fill="#0d0d0d" stroke="#0d0d0d" stroke-width="0.1" text-anchor="start" textLength="137.40" lengthAdjust="spacingAndGlyphs">Post-Retrofit Extreme Winter Event</text>
<line x1="370.4" x2="679.2" y1="37.40" y2="37.40" stroke="#e4e4e4" stroke-width="0.8"/>
<line x1="370.4" x2="679.2" y1="60.20" y2="60.20" stroke="#e4e4e4" stroke-width="0.8"/>
<line x1="370.4" x2="679.2" y1="82.30" y2="82.30" stroke="#e4e4e4" stroke-width="0.8"/>
<line x1="370.4" x2="679.2" y1="104.40" y2="104.40" stroke="#e4e4e4" stroke-width="0.8"/>
<line x1="370.4" x2="679.2" y1="126.50" y2="126.50" stroke="#e4e4e4" stroke-width="0.8"/>
<polyline points="384.40,32.63 385.19,32.75 385.98,32.53 386.77,32.66 387.56,32.42 388.35,32.54 389.15,32.37 389.94,32.49 390.73,32.26 391.52,32.36 392.31,32.13 393.10,32.29 393.90,31.99 394.70,32.09 395.50,31.80 396.30,31.87 397.10,31.60 397.90,31.71 398.70,31.20 399.50,31.75 400.30,30.97 401.10,31.41 401.90,30.75 402.72,31.27 403.55,30.54 404.38,30.86 405.20,30.13 406.02,31.07 406.85,30.71 407.68,31.70 408.50,31.26 409.60,31.43 410.70,30.22 411.75,31.61 412.80,31.71 413.90,30.19 415.00,30.32 416.10,31.82 416.93,31.37 417.75,31.84 418.57,31.21 419.40,31.89 420.28,31.72 421.16,32.12 422.04,32.17 422.92,32.56 423.80,32.62 424.58,32.80 425.36,32.60 426.14,32.81 426.91,32.60 427.69,32.82 428.47,32.59 429.25,32.82 430.03,32.60 430.81,32.77 431.59,32.59 432.36,32.82 433.14,32.59 433.92,32.79 434.70,32.60 435.49,32.72 436.27,32.49 437.06,32.64 437.84,32.42 438.63,32.51 439.41,32.29 440.20,32.47 440.99,32.23 441.77,32.36 442.56,32.12 443.34,32.22 444.13,32.02 444.91,32.16 445.70,31.89 446.49,32.03 447.28,31.83 448.07,31.95 448.86,31.75 449.65,31.90 450.45,31.67 451.24,31.86 452.03,31.62 452.82,31.79 453.61,31.56 454.40,31.66 455.19,31.35 455.97,31.35 456.76,31.06 457.54,31.06 458.33,30.72 459.11,30.73 459.90,30.44 460.78,30.83 461.66,30.86 462.54,31.28 463.42,31.27 464.30,31.68 465.07,31.55 465.84,31.77 466.61,31.62 467.38,31.86 468.15,31.71 468.92,31.94 469.69,31.76 470.46,32.01 471.23,31.87 472.00,32.10 472.78,31.98 473.56,32.18 474.34,32.03 475.11,32.29 475.89,32.16 476.67,32.36 477.45,32.27 478.23,32.49 479.01,32.39 479.79,32.60 480.56,32.45 481.34,32.66 482.12,32.55 482.90,32.79 483.69,32.60 484.47,32.78 485.26,32.60 486.04,32.80 486.83,32.64 487.61,32.76 488.40,32.60 489.19,32.82 489.97,32.62 490.76,32.79 491.54,32.60 492.33,32.78 493.11,32.62 493.90,32.78 494.69,32.62 495.48,32.80 496.27,32.62 497.06,32.78 497.85,32.59 498.65,32.76 499.44,32.61 500.23,32.80 501.02,32.62 501.81,32.77 502.60,32.59 503.40,32.87 504.20,32.83 505.00,33.09 505.80,33.00 506.60,33.27 507.40,33.22 508.20,33.48 509.00,33.39 509.80,33.69 510.60,33.59 511.40,33.87 512.19,33.72 512.98,33.90 513.77,33.69 514.56,33.89 515.35,33.73 516.15,33.87 516.94,33.71 517.73,33.87 518.52,33.69 519.31,33.91 520.10,33.73 520.92,33.94 521.73,33.82 522.55,34.10 523.37,33.96 524.18,34.21 525.00,34.13 525.78,34.33 526.56,34.19 527.34,34.43 528.11,34.32 528.89,34.54 529.67,34.41 530.45,34.63 531.23,34.48 532.01,34.72 532.79,34.64 533.56,34.87 534.34,34.69 535.12,34.97 535.90,34.81 536.73,34.88 537.55,34.51 538.38,34.56 539.20,34.25 540.02,34.32 540.85,33.98 541.67,34.03 542.50,33.72 543.33,33.48 544.15,32.93 544.97,32.66 545.80,32.10 546.59,32.41 547.37,32.35 548.16,32.65 548.94,32.60 549.73,32.94 550.51,32.86 551.30,33.21 552.11,33.01 552.92,33.24 553.74,33.11 554.55,33.30 555.36,33.15 556.17,33.33 556.99,33.18 557.80,33.39 558.59,33.22 559.37,33.42 560.16,33.20 560.94,33.38 561.73,33.22 562.51,33.41 563.30,33.21 564.09,33.41 564.87,33.22 565.66,33.37 566.44,33.21 567.23,33.41 568.01,33.23 568.80,33.41 569.57,33.17 570.34,33.38 571.11,33.16 571.88,33.31 572.65,33.14 573.42,33.34 574.19,33.15 574.96,33.28 575.74,33.12 576.51,33.27 577.28,33.09 578.05,33.25 578.82,33.04 579.59,33.20 580.36,33.06 581.13,33.18 581.90,33.03 582.70,33.13 583.50,32.91 584.30,33.10 585.10,32.89 585.90,33.01 586.70,32.80 587.50,32.92 588.30,32.73 589.10,32.87 589.90,32.64 590.70,32.78 591.53,32.40 592.35,32.33 593.17,31.96 594.00,31.89 594.83,31.47 595.65,31.43 596.47,31.06 597.30,30.97 598.11,30.96 598.92,31.27 599.74,31.21 600.55,31.53 601.36,31.48 602.17,31.82 602.99,31.78 603.80,32.08 604.60,31.91 605.40,32.10 606.20,31.91 607.00,32.10 607.80,31.91 608.60,32.07 609.40,31.91 610.20,32.10 611.00,31.94 611.80,32.09 612.60,31.91 613.38,32.08 614.16,31.83 614.94,32.00 615.71,31.77 616.49,31.96 617.27,31.75 618.05,31.89 618.83,31.70 619.61,31.85 620.39,31.61 621.16,31.80 621.94,31.55 622.72,31.73 623.50,31.50 624.29,31.66 625.07,31.46 625.86,31.59 626.64,31.40 627.43,31.49 628.21,31.28 629.00,31.41 629.79,31.25 630.57,31.34 631.36,31.13 632.14,31.28 632.93,31.11 633.71,31.25 634.50,31.03 635.28,31.21 636.06,31.00 636.84,31.21 637.61,30.98 638.39,31.19 639.17,30.99 639.95,31.16 640.73,30.99 641.51,31.19 642.29,31.00 643.06,31.17 643.84,31.00 644.62,31.22 645.40,31.04 646.19,31.22 646.97,31.08 647.76,31.32 648.54,31.17 649.33,31.35 650.11,31.24 650.90,31.45 651.69,31.28 652.47,31.51 653.26,31.38 654.04,31.58 654.83,31.45 655.61,31.65 656.40,31.54 657.19,31.73 657.98,31.55 658.77,31.79 659.56,31.64 660.35,31.85 661.15,31.72 661.94,31.96 662.73,31.79 663.52,32.02 664.31,31.87 665.10,32.00" fill="none" stroke="#2a74aa" stroke-width="0.8" stroke-linejoin="round" stroke-opacity="1"/><polyline points="384.40,34.20 391.00,35.50 397.50,36.40 404.10,37.00 412.80,36.40 418.30,37.50 423.80,38.60 432.60,38.60 433.60,37.70 435.80,39.20 441.30,40.30 447.90,40.30 450.10,38.10 455.50,38.10 463.20,38.60 465.40,40.30 472.00,40.80 480.70,41.40 482.90,38.10 487.30,39.90 496.00,40.80 499.30,39.90 501.50,37.70 507.00,39.20 515.80,39.20 522.30,40.30 525.00,40.30 529.40,41.40 533.80,42.50 538.10,43.00 542.50,42.50 545.80,39.90 548.00,41.40 550.20,38.60 553.50,40.30 555.70,42.10 560.00,42.50 563.30,42.50 564.90,40.30 567.70,42.50 575.40,43.00 586.30,42.50 595.10,41.40 600.50,39.20 602.70,38.60 606.00,40.80 610.40,41.40 617.00,41.40 621.30,40.30 630.10,40.30 643.20,40.30 647.60,38.60 652.00,37.70 656.40,38.60 659.70,40.30 661.80,41.40 665.10,39.90" fill="none" stroke="#f0832a" stroke-width="0.8" stroke-linejoin="round" stroke-opacity="1"/><polyline points="384.40,37.50 393.10,37.70 401.90,37.00 405.20,34.90 408.00,31.60 410.20,34.90 412.80,36.40 423.80,37.00 434.70,37.50 445.70,37.00 454.40,37.50 463.20,37.00 478.50,37.00 489.50,37.00 500.40,37.00 503.70,37.70 507.00,39.90 511.40,38.60 518.00,39.20 524.50,40.80 531.60,40.80 538.10,41.40 541.40,40.80 545.80,38.10 549.10,38.60 551.30,37.00 554.60,38.10 557.80,37.00 568.80,37.00 579.70,37.00 590.70,36.40 601.60,35.90 612.60,35.90 623.50,35.90 634.50,35.90 645.40,36.40 652.00,36.40 658.60,37.00 665.10,37.00" fill="none" stroke="#35993a" stroke-width="0.8" stroke-linejoin="round" stroke-opacity="1"/><polyline points="384.20,97.40 386.60,97.80 388.50,99.10 390.40,98.40 393.20,98.80 397.00,99.30 399.80,98.40 403.60,96.30 406.50,93.10 409.30,91.20 412.10,89.30 415.00,90.20 418.80,91.20 422.50,93.10 426.30,96.90 428.20,95.00 432.00,94.00 435.80,93.60 440.50,93.50 445.20,93.10 449.00,90.60 452.80,87.40 455.60,83.60 459.40,78.00 461.70,74.60 464.10,75.10 467.00,75.50 470.70,76.10 472.60,77.00 474.50,86.50 475.30,88.40 477.30,91.80 479.70,94.00 481.60,98.80 484.50,103.10 488.20,108.20 492.00,112.00 495.80,115.20 500.50,118.20 502.40,117.70 504.30,117.10 506.20,118.20 513.80,118.20 516.60,122.40 520.40,126.50 524.10,129.00 529.80,129.90 534.00,129.60 535.50,132.80 537.40,134.70 538.90,133.70 541.20,126.20 544.00,118.60 546.80,114.80 549.70,109.10 552.90,105.40 556.30,103.90 560.10,100.10 562.30,95.90 565.70,94.00 569.50,90.20 570.30,89.30 571.60,87.30 573.20,88.20 574.50,87.30 576.40,88.50 579.60,85.70 582.80,84.80 586.10,83.70 589.30,79.40 593.30,72.50 596.50,67.20 599.70,66.90 603.70,65.70 606.90,66.50 609.30,66.10 611.80,68.50 613.40,70.90 616.60,72.00 619.80,73.80 622.20,76.00 625.40,77.30 627.80,77.00 630.70,75.20 633.40,75.40 637.40,76.80 639.10,80.50 640.70,83.70 643.10,84.50 646.30,84.20 648.70,81.80 651.10,84.00 654.30,87.30 657.50,89.30 661.50,91.30 665.10,92.60" fill="none" stroke="#c53036" stroke-width="0.8" stroke-linejoin="round" stroke-opacity="1"/><rect x="372.8" y="100.8" width="88.60" height="34.30" rx="1.5" fill="#fff" fill-opacity="0.8" stroke="#e2e2e2" stroke-width="0.6"/>
<line x1="374.6" x2="386.2" y1="105.5" y2="105.5" stroke="#2a74aa" stroke-width="1.1" stroke-opacity="0.65"/>
<text x="391.10" y="107.35" font-size="5.83" fill="#0d0d0d" stroke="#0d0d0d" stroke-width="0.1" text-anchor="start" textLength="67.71" lengthAdjust="spacingAndGlyphs">Temp at North Facing BR</text>
<line x1="374.6" x2="386.2" y1="113.6" y2="113.6" stroke="#f0832a" stroke-width="1.1" stroke-opacity="0.65"/>
<text x="391.10" y="115.45" font-size="5.83" fill="#0d0d0d" stroke="#0d0d0d" stroke-width="0.1" text-anchor="start" textLength="68.32" lengthAdjust="spacingAndGlyphs">Temp at South Facing BR</text>
<line x1="374.6" x2="386.2" y1="121.7" y2="121.7" stroke="#35993a" stroke-width="1.1" stroke-opacity="0.65"/>
<text x="391.10" y="123.55" font-size="5.83" fill="#0d0d0d" stroke="#0d0d0d" stroke-width="0.1" text-anchor="start" textLength="57.44" lengthAdjust="spacingAndGlyphs">Temp at Living Room</text>
<line x1="374.6" x2="386.2" y1="129.8" y2="129.8" stroke="#c53036" stroke-width="1.1" stroke-opacity="0.65"/>
<text x="391.10" y="131.65" font-size="5.83" fill="#0d0d0d" stroke="#0d0d0d" stroke-width="0.1" text-anchor="start" textLength="38.86" lengthAdjust="spacingAndGlyphs">Outdoor Temp</text>
<line x1="370.4" x2="370.4" y1="15.5" y2="137.5" stroke="#b8b8b8" stroke-width="1"/>
<line x1="679.2" x2="679.2" y1="15.5" y2="137.5" stroke="#b8b8b8" stroke-width="1"/>
<line x1="369.9" x2="679.7" y1="15.5" y2="15.5" stroke="#9a9a9a" stroke-width="1"/>
<line x1="369.9" x2="679.7" y1="137.5" y2="137.5" stroke="#9a9a9a" stroke-width="1"/>
<line x1="368.4" x2="370.4" y1="15.10" y2="15.10" stroke="#8c8c8c" stroke-width="0.7"/>
<text x="367.10" y="17.60" font-size="6.36" fill="#0d0d0d" stroke="#0d0d0d" stroke-width="0.1" text-anchor="end" textLength="7.63" lengthAdjust="spacingAndGlyphs">30</text>
<line x1="368.4" x2="370.4" y1="37.40" y2="37.40" stroke="#8c8c8c" stroke-width="0.7"/>
<text x="367.10" y="39.90" font-size="6.36" fill="#0d0d0d" stroke="#0d0d0d" stroke-width="0.1" text-anchor="end" textLength="7.63" lengthAdjust="spacingAndGlyphs">20</text>
<line x1="368.4" x2="370.4" y1="60.20" y2="60.20" stroke="#8c8c8c" stroke-width="0.7"/>
<text x="367.10" y="62.70" font-size="6.36" fill="#0d0d0d" stroke="#0d0d0d" stroke-width="0.1" text-anchor="end" textLength="7.63" lengthAdjust="spacingAndGlyphs">10</text>
<line x1="368.4" x2="370.4" y1="82.30" y2="82.30" stroke="#8c8c8c" stroke-width="0.7"/>
<text x="367.10" y="84.80" font-size="6.36" fill="#0d0d0d" stroke="#0d0d0d" stroke-width="0.1" text-anchor="end" textLength="3.82" lengthAdjust="spacingAndGlyphs">0</text>
<line x1="368.4" x2="370.4" y1="104.40" y2="104.40" stroke="#8c8c8c" stroke-width="0.7"/>
<text x="367.10" y="106.90" font-size="6.36" fill="#0d0d0d" stroke="#0d0d0d" stroke-width="0.1" text-anchor="end" textLength="12.66" lengthAdjust="spacingAndGlyphs">−10</text>
<line x1="368.4" x2="370.4" y1="126.50" y2="126.50" stroke="#8c8c8c" stroke-width="0.7"/>
<text x="367.10" y="129.00" font-size="6.36" fill="#0d0d0d" stroke="#0d0d0d" stroke-width="0.1" text-anchor="end" textLength="12.66" lengthAdjust="spacingAndGlyphs">−20</text>
<line x1="384.50" x2="384.50" y1="137.5" y2="139.5" stroke="#8c8c8c" stroke-width="0.7"/>
<line x1="431.28" x2="431.28" y1="137.5" y2="139.5" stroke="#8c8c8c" stroke-width="0.7"/>
<line x1="478.06" x2="478.06" y1="137.5" y2="139.5" stroke="#8c8c8c" stroke-width="0.7"/>
<line x1="524.84" x2="524.84" y1="137.5" y2="139.5" stroke="#8c8c8c" stroke-width="0.7"/>
<line x1="571.62" x2="571.62" y1="137.5" y2="139.5" stroke="#8c8c8c" stroke-width="0.7"/>
<line x1="618.40" x2="618.40" y1="137.5" y2="139.5" stroke="#8c8c8c" stroke-width="0.7"/>
<line x1="665.18" x2="665.18" y1="137.5" y2="139.5" stroke="#8c8c8c" stroke-width="0.7"/>
<g transform="translate(351.80,76.80) rotate(-90)"><text x="0.00" y="0.00" font-size="6.52" fill="#0d0d0d" stroke="#0d0d0d" stroke-width="0.1" text-anchor="middle" textLength="50.01" lengthAdjust="spacingAndGlyphs">Temperature (C)</text></g>
<line x1="370.4" x2="679.2" y1="172.10" y2="172.10" stroke="#e4e4e4" stroke-width="0.8"/>
<line x1="370.4" x2="679.2" y1="196.40" y2="196.40" stroke="#e4e4e4" stroke-width="0.8"/>
<line x1="370.4" x2="679.2" y1="221.00" y2="221.00" stroke="#e4e4e4" stroke-width="0.8"/>
<line x1="370.4" x2="679.2" y1="245.40" y2="245.40" stroke="#e4e4e4" stroke-width="0.8"/>
<polyline points="384.10,237.80 385.80,236.70 391.70,236.40 399.00,236.40 406.30,236.40 409.20,235.50 412.10,236.70 414.30,235.50 418.00,237.40 423.80,238.90 428.20,239.60 432.60,240.00 436.90,239.60 441.30,237.80 447.20,237.40 453.00,237.40 457.40,236.70 459.60,237.80 461.80,236.00 464.70,237.80 470.50,238.90 475.00,239.30 479.40,240.40 482.30,241.20 486.70,239.70 491.10,238.20 495.40,238.70 499.80,239.70 502.70,241.20 505.70,242.20 507.80,241.20 510.00,241.90 513.00,241.20 515.90,240.40 520.30,242.60 524.60,244.50 529.00,246.30 531.90,247.00 534.90,245.50 540.70,245.10 546.50,245.10 549.50,244.80 551.60,243.10 554.60,243.60 558.20,243.10 562.60,244.10 568.40,244.80 575.00,245.10 578.00,245.40 586.10,245.40 595.70,244.90 598.10,243.30 602.10,242.50 608.50,240.90 612.60,238.50 617.40,234.80 619.80,236.40 624.60,234.80 629.40,233.20 633.40,231.60 636.60,230.90 640.70,232.00 643.90,234.10 647.10,235.30 651.90,236.10 658.30,237.70 663.10,238.50 665.50,238.50" fill="none" stroke="#2a74aa" stroke-width="0.8" stroke-linejoin="round" stroke-opacity="1"/><polyline points="384.10,239.60 384.40,238.10 388.80,238.10 394.60,238.10 401.90,238.10 406.30,238.90 407.40,229.10 408.50,233.80 410.70,234.50 413.60,234.10 416.50,236.00 420.90,237.40 425.30,238.90 428.90,239.60 430.40,238.10 432.60,233.80 434.30,232.00 436.20,234.50 438.40,235.50 444.20,235.50 448.60,236.00 450.10,226.80 451.50,230.80 453.00,233.80 455.90,234.90 459.60,236.00 460.30,227.90 461.00,225.70 461.80,229.40 463.90,233.00 469.10,234.50 474.90,235.20 480.80,234.60 485.20,234.60 489.60,236.10 494.00,236.40 497.60,236.80 498.80,230.20 499.80,233.90 502.00,237.20 504.20,236.10 506.40,233.40 508.60,236.10 513.00,239.00 518.80,241.20 524.60,243.10 529.00,245.10 531.90,243.40 536.30,242.60 540.70,242.20 545.10,241.90 546.50,243.40 548.00,245.10 550.20,239.00 551.60,234.60 553.10,237.50 556.00,239.00 558.90,237.50 561.10,239.70 563.80,239.00 564.80,232.80 566.20,235.30 569.20,237.80 572.10,239.30 574.80,240.90 579.60,240.60 586.10,238.50 594.10,236.90 598.90,235.70 600.50,234.50 603.70,234.80 606.10,233.70 608.50,230.40 611.80,227.20 615.00,226.70 618.20,228.80 620.60,228.80 623.00,226.40 627.80,226.10 634.20,226.40 640.70,226.70 645.50,227.70 647.10,224.00 648.30,218.50 649.50,224.00 651.90,227.20 655.10,230.00 658.30,231.60 663.10,232.50 664.70,224.80" fill="none" stroke="#f0832a" stroke-width="0.8" stroke-linejoin="round" stroke-opacity="1"/><polyline points="384.10,231.60 385.80,229.70 388.00,231.60 391.70,233.80 396.10,234.90 401.90,236.40 406.30,237.80 408.50,235.50 412.10,233.80 415.80,232.30 419.40,234.50 423.80,236.40 427.40,238.10 430.40,236.40 431.80,228.60 434.70,226.20 436.20,229.40 438.40,232.30 442.80,234.90 447.20,236.40 450.10,236.70 451.50,233.00 453.70,233.50 455.90,235.20 458.80,236.70 461.00,235.20 462.50,231.60 464.70,232.30 467.60,233.50 473.40,234.90 475.00,234.60 477.90,235.80 480.10,236.10 482.30,233.90 485.20,235.30 489.60,237.20 494.00,238.20 498.40,239.00 499.80,236.10 501.30,237.20 503.50,238.20 506.40,232.80 507.80,234.60 510.80,238.20 514.40,240.40 518.80,241.90 523.20,243.40 527.60,244.80 530.50,246.00 533.40,245.10 548.00,245.10 549.50,244.10 550.90,236.80 552.10,233.40 553.10,236.10 554.60,238.20 556.80,238.20 558.50,235.30 560.40,237.50 562.60,239.30 564.80,237.50 566.20,236.10 569.20,238.20 572.10,240.40 574.80,242.00 582.80,241.70 590.90,241.20 596.50,240.90 598.90,238.50 600.50,235.30 602.10,234.80 604.50,236.10 606.90,232.80 608.50,228.40 609.80,232.00 611.40,227.70 613.40,226.40 615.80,228.00 618.20,228.80 621.40,226.40 624.60,227.20 629.40,228.80 634.20,230.00 639.10,230.90 643.10,232.80 647.10,234.50 648.70,228.80 651.90,229.60 655.10,232.00 657.50,231.60 660.70,234.10 663.90,234.10 665.10,224.80" fill="none" stroke="#35993a" stroke-width="0.8" stroke-linejoin="round" stroke-opacity="1"/><polyline points="384.30,185.10 386.40,185.70 387.40,189.40 388.90,185.10 391.70,183.00 394.90,181.50 399.10,181.50 401.30,179.80 402.30,185.10 403.40,194.70 405.10,200.00 406.60,202.10 408.70,201.10 410.90,204.90 413.00,202.10 416.20,200.60 420.40,199.40 422.10,196.80 424.70,186.20 426.80,181.50 427.90,179.80 429.40,181.90 432.10,185.10 436.40,188.70 440.60,192.10 443.80,193.60 447.00,194.30 450.00,194.90 452.10,197.60 453.50,206.40 455.30,217.10 458.00,223.30 460.60,225.90 462.40,225.00 464.20,224.10 466.80,223.30 469.50,221.50 471.30,221.50 472.70,208.20 473.90,183.40 475.70,163.00 477.00,164.80 478.40,176.30 480.10,190.50 481.60,168.30 482.80,178.00 484.60,195.80 487.20,197.60 488.10,197.60 489.00,193.10 490.40,187.80 492.60,186.90 495.20,176.30 497.00,170.90 499.50,170.20 501.60,170.60 503.70,168.70 504.80,170.20 509.00,166.00 511.20,167.00 514.40,165.50 517.60,167.40 520.70,170.20 523.50,171.30 526.10,170.60 531.40,170.60 535.60,170.60 538.80,169.10 541.40,168.50 544.10,171.30 547.30,179.80 549.50,191.50 550.50,198.90 553.70,200.40 556.90,201.70 559.00,198.90 560.50,197.20 562.20,207.40 565.40,210.00 568.60,213.20 570.70,212.10 571.70,213.80 573.20,211.70 575.30,212.80 578.50,209.60 582.80,206.40 586.00,205.30 590.20,207.40 593.40,211.70 596.60,214.90 598.70,213.80 601.50,216.00 604.00,213.80 607.20,210.60 609.40,207.40 611.50,204.30 613.60,200.00 615.70,190.40 617.90,183.00 620.00,179.80 622.10,171.30 624.90,162.80 627.90,159.60 631.70,160.60 634.90,161.10 638.10,164.90 641.30,171.30 643.40,174.50 646.60,178.70 649.80,182.30 651.90,181.50 654.00,178.70 657.20,175.50 660.40,173.40 662.60,171.30 665.30,169.60" fill="none" stroke="#c53036" stroke-width="0.8" stroke-linejoin="round" stroke-opacity="1"/><rect x="372.9" y="150.5" width="81.80" height="33.90" rx="1.5" fill="#fff" fill-opacity="0.8" stroke="#e2e2e2" stroke-width="0.6"/>
<line x1="375.1" x2="386.4" y1="154.9" y2="154.9" stroke="#2a74aa" stroke-width="1.1" stroke-opacity="0.65"/>
<text x="390.70" y="156.75" font-size="5.83" fill="#0d0d0d" stroke="#0d0d0d" stroke-width="0.1" text-anchor="start" textLength="61.01" lengthAdjust="spacingAndGlyphs">RH at North Facing BR</text>
<line x1="375.1" x2="386.4" y1="163.1" y2="163.1" stroke="#f0832a" stroke-width="1.1" stroke-opacity="0.65"/>
<text x="390.70" y="164.95" font-size="5.83" fill="#0d0d0d" stroke="#0d0d0d" stroke-width="0.1" text-anchor="start" textLength="61.61" lengthAdjust="spacingAndGlyphs">RH at South Facing BR</text>
<line x1="375.1" x2="386.4" y1="171.3" y2="171.3" stroke="#35993a" stroke-width="1.1" stroke-opacity="0.65"/>
<text x="390.70" y="173.15" font-size="5.83" fill="#0d0d0d" stroke="#0d0d0d" stroke-width="0.1" text-anchor="start" textLength="50.74" lengthAdjust="spacingAndGlyphs">RH at Living Room</text>
<line x1="375.1" x2="386.4" y1="179.5" y2="179.5" stroke="#c53036" stroke-width="1.1" stroke-opacity="0.65"/>
<text x="390.70" y="181.35" font-size="5.83" fill="#0d0d0d" stroke="#0d0d0d" stroke-width="0.1" text-anchor="start" textLength="32.16" lengthAdjust="spacingAndGlyphs">Outdoor RH</text>
<line x1="370.4" x2="370.4" y1="147.5" y2="269.5" stroke="#b8b8b8" stroke-width="1"/>
<line x1="679.2" x2="679.2" y1="147.5" y2="269.5" stroke="#b8b8b8" stroke-width="1"/>
<line x1="369.9" x2="679.7" y1="147.5" y2="147.5" stroke="#9a9a9a" stroke-width="1"/>
<line x1="369.9" x2="679.7" y1="269.5" y2="269.5" stroke="#9a9a9a" stroke-width="1"/>
<line x1="368.4" x2="370.4" y1="147.50" y2="147.50" stroke="#8c8c8c" stroke-width="0.7"/>
<text x="367.10" y="150.00" font-size="6.36" fill="#0d0d0d" stroke="#0d0d0d" stroke-width="0.1" text-anchor="end" textLength="11.45" lengthAdjust="spacingAndGlyphs">100</text>
<line x1="368.4" x2="370.4" y1="172.10" y2="172.10" stroke="#8c8c8c" stroke-width="0.7"/>
<text x="367.10" y="174.60" font-size="6.36" fill="#0d0d0d" stroke="#0d0d0d" stroke-width="0.1" text-anchor="end" textLength="7.63" lengthAdjust="spacingAndGlyphs">80</text>
<line x1="368.4" x2="370.4" y1="196.40" y2="196.40" stroke="#8c8c8c" stroke-width="0.7"/>
<text x="367.10" y="198.90" font-size="6.36" fill="#0d0d0d" stroke="#0d0d0d" stroke-width="0.1" text-anchor="end" textLength="7.63" lengthAdjust="spacingAndGlyphs">60</text>
<line x1="368.4" x2="370.4" y1="221.00" y2="221.00" stroke="#8c8c8c" stroke-width="0.7"/>
<text x="367.10" y="223.50" font-size="6.36" fill="#0d0d0d" stroke="#0d0d0d" stroke-width="0.1" text-anchor="end" textLength="7.63" lengthAdjust="spacingAndGlyphs">40</text>
<line x1="368.4" x2="370.4" y1="245.40" y2="245.40" stroke="#8c8c8c" stroke-width="0.7"/>
<text x="367.10" y="247.90" font-size="6.36" fill="#0d0d0d" stroke="#0d0d0d" stroke-width="0.1" text-anchor="end" textLength="7.63" lengthAdjust="spacingAndGlyphs">20</text>
<line x1="368.4" x2="370.4" y1="269.50" y2="269.50" stroke="#8c8c8c" stroke-width="0.7"/>
<text x="367.10" y="272.00" font-size="6.36" fill="#0d0d0d" stroke="#0d0d0d" stroke-width="0.1" text-anchor="end" textLength="3.82" lengthAdjust="spacingAndGlyphs">0</text>
<line x1="384.50" x2="384.50" y1="269.5" y2="271.5" stroke="#8c8c8c" stroke-width="0.7"/>
<line x1="431.28" x2="431.28" y1="269.5" y2="271.5" stroke="#8c8c8c" stroke-width="0.7"/>
<line x1="478.06" x2="478.06" y1="269.5" y2="271.5" stroke="#8c8c8c" stroke-width="0.7"/>
<line x1="524.84" x2="524.84" y1="269.5" y2="271.5" stroke="#8c8c8c" stroke-width="0.7"/>
<line x1="571.62" x2="571.62" y1="269.5" y2="271.5" stroke="#8c8c8c" stroke-width="0.7"/>
<line x1="618.40" x2="618.40" y1="269.5" y2="271.5" stroke="#8c8c8c" stroke-width="0.7"/>
<line x1="665.18" x2="665.18" y1="269.5" y2="271.5" stroke="#8c8c8c" stroke-width="0.7"/>
<g transform="translate(352.70,208.80) rotate(-90)"><text x="0.00" y="0.00" font-size="6.52" fill="#0d0d0d" stroke="#0d0d0d" stroke-width="0.1" text-anchor="middle" textLength="67.24" lengthAdjust="spacingAndGlyphs">Relative Humidity (%)</text></g>
<line x1="370.4" x2="679.2" y1="386.79" y2="386.79" stroke="#e4e4e4" stroke-width="0.8"/>
<line x1="370.4" x2="679.2" y1="371.48" y2="371.48" stroke="#e4e4e4" stroke-width="0.8"/>
<line x1="370.4" x2="679.2" y1="356.16" y2="356.16" stroke="#e4e4e4" stroke-width="0.8"/>
<line x1="370.4" x2="679.2" y1="340.85" y2="340.85" stroke="#e4e4e4" stroke-width="0.8"/>
<line x1="370.4" x2="679.2" y1="325.54" y2="325.54" stroke="#e4e4e4" stroke-width="0.8"/>
<line x1="370.4" x2="679.2" y1="310.23" y2="310.23" stroke="#e4e4e4" stroke-width="0.8"/>
<line x1="370.4" x2="679.2" y1="294.91" y2="294.91" stroke="#e4e4e4" stroke-width="0.8"/>
<polyline points="384.50,395.14 385.22,393.18 385.94,390.75 386.66,387.77 387.38,391.48 388.10,386.99 388.82,393.56 389.54,387.48 390.26,390.70 390.98,385.67 391.70,394.14 392.42,388.82 393.14,394.17 393.86,385.56 394.58,390.29 395.30,390.50 396.02,388.43 396.74,384.56 397.46,390.54 398.18,386.81 398.90,393.74 399.62,390.67 400.34,391.35 401.06,390.39 401.78,393.53 402.20,393.00 402.80,401.40 403.50,398.00 404.20,395.30 404.90,401.50 405.60,398.00 406.30,395.30 407.00,401.50 411.40,401.50 411.80,393.40 412.50,379.20 413.20,397.20 413.90,390.50 414.90,371.60 415.80,396.20 416.30,390.00 417.40,378.20 418.20,393.40 419.10,386.30 419.78,390.06 420.50,395.77 421.22,388.56 421.94,393.01 422.66,386.01 423.38,392.48 424.10,387.37 424.82,392.61 425.54,387.22 426.26,392.89 426.98,389.81 427.70,389.25 428.42,384.98 429.14,390.31 429.86,386.92 430.58,393.85 431.30,390.14 432.02,394.03 432.74,391.21 433.46,390.81 434.18,388.99 434.90,390.27 435.62,389.08 436.34,389.52 437.06,385.98 437.78,395.97 438.50,390.27 439.22,389.84 439.94,388.52 440.66,389.37 441.38,389.01 442.10,395.48 442.82,387.45 443.54,390.73 444.26,389.87 444.98,395.39 445.70,389.45 446.42,389.48 447.14,386.58 447.86,395.18 448.58,390.03 449.30,395.29 450.02,391.28 450.74,390.61 451.46,390.49 452.18,392.21 452.90,388.67 453.62,394.69 454.34,386.76 455.06,395.09 455.78,387.35 456.50,395.19 457.22,388.85 457.94,394.54 458.66,389.87 459.38,389.43 460.10,386.27 460.82,393.93 461.54,385.73 462.26,394.56 462.98,389.03 463.70,390.22 464.42,387.36 465.14,395.30 465.86,385.02 466.58,394.54 467.30,389.95 468.02,390.77 468.74,389.47 469.46,393.98 470.18,390.51 470.90,395.18 471.62,386.53 472.34,393.85 473.06,386.17 473.78,392.69 474.50,387.03 475.22,388.13 475.94,386.58 476.66,390.76 477.38,383.51 478.10,393.46 478.82,388.58 479.54,387.85 480.26,383.41 480.98,392.54 481.70,387.87 482.42,388.67 483.14,382.02 483.86,392.52 484.58,381.72 485.30,387.17 486.02,384.09 486.74,390.41 487.46,387.62 488.18,393.09 488.90,380.92 489.62,391.37 490.34,382.64 491.06,391.02 491.78,381.50 492.50,388.24 493.22,385.29 493.94,391.22 494.66,381.82 495.38,391.82 496.10,385.34 496.82,387.88 497.54,380.35 498.26,387.24 498.98,384.49 499.70,384.71 500.00,383.40 501.00,385.80 501.50,388.80 502.20,383.40 503.00,384.80 504.00,388.80 505.00,401.20 505.50,400.70 506.20,381.90 507.00,375.90 507.90,373.90 508.90,373.40 509.70,387.80 510.40,377.90 511.40,374.90 512.40,372.40 513.40,372.40 514.40,390.30 515.40,374.90 516.40,373.40 517.50,373.80 518.60,373.20 519.80,373.60 520.90,373.40 522.00,375.90 522.80,388.30 523.60,375.90 524.30,373.40 525.50,373.70 526.70,373.20 528.00,373.60 529.80,373.40 531.30,386.80 532.30,373.40 533.50,373.70 535.00,373.20 536.60,373.60 538.20,373.40 539.50,387.30 540.20,374.90 541.70,371.90 543.70,370.40 544.70,371.40 545.70,376.90 546.70,377.90 547.50,387.30 548.70,376.90 549.70,377.40 550.20,381.90 551.10,393.80 552.10,384.80 553.10,380.90 554.10,383.40 555.10,388.80 556.10,380.90 557.60,379.40 558.60,381.90 560.00,380.40 560.90,387.13 561.62,393.40 562.34,386.65 563.06,390.25 563.78,388.18 564.50,392.23 565.22,385.91 565.94,389.32 566.66,387.66 567.38,390.86 568.10,382.08 568.82,386.32 569.54,383.80 570.26,388.44 570.98,384.33 571.70,392.49 572.42,388.37 573.14,393.39 573.86,381.93 574.58,388.37 575.30,381.55 576.02,393.37 576.74,383.95 577.46,389.98 578.18,383.26 578.90,391.18 579.62,381.28 580.34,392.97 581.06,384.61 581.78,388.11 582.50,382.01 583.22,388.11 583.94,383.45 584.66,387.69 585.38,381.90 586.10,390.94 586.82,383.59 587.54,386.90 588.26,382.22 588.98,390.46 589.70,382.81 590.42,392.16 591.14,388.96 591.86,394.06 592.58,390.48 593.30,394.40 594.02,388.68 594.74,398.40 595.46,388.43 596.18,391.13 596.90,386.52 597.62,393.24 598.34,390.43 599.06,393.18 599.78,388.90 600.50,395.53 601.22,386.85 601.94,398.37 602.66,387.55 603.38,398.80 604.10,388.74 604.82,395.21 605.54,391.69 606.26,393.48 606.98,389.57 607.70,394.14 608.42,386.20 609.14,397.00 609.86,393.43 610.58,396.64 611.30,388.13 612.02,397.42 612.74,392.17 613.46,391.83 614.18,388.27 614.90,395.52 615.62,386.42 616.34,396.43 617.06,388.22 617.78,397.46 618.50,390.09 619.22,392.62 619.94,386.25 620.66,391.34 621.38,390.09 622.10,393.53 622.82,390.59 623.54,396.81 624.26,389.26 624.98,391.66 625.70,386.67 626.42,392.59 627.14,385.93 627.86,395.78 628.58,391.67 629.30,394.50 630.02,390.89 630.74,396.24 631.46,389.87 632.18,393.21 632.90,389.28 633.62,395.49 634.34,386.74 635.06,390.59 635.78,389.59 636.50,397.26 637.22,392.68 637.94,391.40 638.66,392.61 639.38,392.60 640.10,388.72 640.82,395.54 641.54,387.09 642.26,397.67 642.98,391.91 643.70,394.47 644.42,392.73 645.14,391.71 645.86,391.17 646.58,396.78 647.30,392.57 648.02,393.19 648.74,389.63 649.46,393.18 650.18,388.10 650.90,391.88 651.62,385.87 652.34,392.78 653.06,391.45 653.78,394.32 654.50,391.60 655.22,397.73 655.94,389.44 656.66,392.56 657.38,391.60 658.10,395.81 658.82,390.37 659.54,392.69 660.26,389.09 660.98,393.30 661.70,387.35 662.42,394.92 663.14,387.09 663.86,391.15 664.58,392.27 665.50,402.10" fill="none" stroke="#2a74aa" stroke-width="0.7" stroke-linejoin="round" stroke-opacity="1"/><rect x="601.5" y="281.5" width="75.80" height="11.10" rx="1.5" fill="#fff" fill-opacity="0.8" stroke="#e2e2e2" stroke-width="0.6"/>
<line x1="603.8" x2="615.3" y1="286.8" y2="286.8" stroke="#2a74aa" stroke-width="1.1" stroke-opacity="0.65"/>
<text x="620.20" y="288.65" font-size="5.83" fill="#0d0d0d" stroke="#0d0d0d" stroke-width="0.1" text-anchor="start" textLength="54.40" lengthAdjust="spacingAndGlyphs">HVAC Energy usage</text>
<line x1="370.4" x2="370.4" y1="279.5" y2="402.4" stroke="#b8b8b8" stroke-width="1"/>
<line x1="679.2" x2="679.2" y1="279.5" y2="402.4" stroke="#b8b8b8" stroke-width="1"/>
<line x1="369.9" x2="679.7" y1="279.5" y2="279.5" stroke="#9a9a9a" stroke-width="1"/>
<line x1="369.9" x2="679.7" y1="402.4" y2="402.4" stroke="#9a9a9a" stroke-width="1"/>
<line x1="368.4" x2="370.4" y1="402.10" y2="402.10" stroke="#8c8c8c" stroke-width="0.7"/>
<text x="367.10" y="404.60" font-size="6.36" fill="#0d0d0d" stroke="#0d0d0d" stroke-width="0.1" text-anchor="end" textLength="13.36" lengthAdjust="spacingAndGlyphs">0.00</text>
<line x1="368.4" x2="370.4" y1="386.79" y2="386.79" stroke="#8c8c8c" stroke-width="0.7"/>
<text x="367.10" y="389.29" font-size="6.36" fill="#0d0d0d" stroke="#0d0d0d" stroke-width="0.1" text-anchor="end" textLength="13.36" lengthAdjust="spacingAndGlyphs">0.25</text>
<line x1="368.4" x2="370.4" y1="371.48" y2="371.48" stroke="#8c8c8c" stroke-width="0.7"/>
<text x="367.10" y="373.98" font-size="6.36" fill="#0d0d0d" stroke="#0d0d0d" stroke-width="0.1" text-anchor="end" textLength="13.36" lengthAdjust="spacingAndGlyphs">0.50</text>
<line x1="368.4" x2="370.4" y1="356.16" y2="356.16" stroke="#8c8c8c" stroke-width="0.7"/>
<text x="367.10" y="358.66" font-size="6.36" fill="#0d0d0d" stroke="#0d0d0d" stroke-width="0.1" text-anchor="end" textLength="13.36" lengthAdjust="spacingAndGlyphs">0.75</text>
<line x1="368.4" x2="370.4" y1="340.85" y2="340.85" stroke="#8c8c8c" stroke-width="0.7"/>
<text x="367.10" y="343.35" font-size="6.36" fill="#0d0d0d" stroke="#0d0d0d" stroke-width="0.1" text-anchor="end" textLength="13.36" lengthAdjust="spacingAndGlyphs">1.00</text>
<line x1="368.4" x2="370.4" y1="325.54" y2="325.54" stroke="#8c8c8c" stroke-width="0.7"/>
<text x="367.10" y="328.04" font-size="6.36" fill="#0d0d0d" stroke="#0d0d0d" stroke-width="0.1" text-anchor="end" textLength="13.36" lengthAdjust="spacingAndGlyphs">1.25</text>
<line x1="368.4" x2="370.4" y1="310.23" y2="310.23" stroke="#8c8c8c" stroke-width="0.7"/>
<text x="367.10" y="312.73" font-size="6.36" fill="#0d0d0d" stroke="#0d0d0d" stroke-width="0.1" text-anchor="end" textLength="13.36" lengthAdjust="spacingAndGlyphs">1.50</text>
<line x1="368.4" x2="370.4" y1="294.91" y2="294.91" stroke="#8c8c8c" stroke-width="0.7"/>
<text x="367.10" y="297.41" font-size="6.36" fill="#0d0d0d" stroke="#0d0d0d" stroke-width="0.1" text-anchor="end" textLength="13.36" lengthAdjust="spacingAndGlyphs">1.75</text>
<line x1="368.4" x2="370.4" y1="279.60" y2="279.60" stroke="#8c8c8c" stroke-width="0.7"/>
<text x="367.10" y="282.10" font-size="6.36" fill="#0d0d0d" stroke="#0d0d0d" stroke-width="0.1" text-anchor="end" textLength="13.36" lengthAdjust="spacingAndGlyphs">2.00</text>
<line x1="384.50" x2="384.50" y1="402.4" y2="404.4" stroke="#8c8c8c" stroke-width="0.7"/>
<line x1="431.28" x2="431.28" y1="402.4" y2="404.4" stroke="#8c8c8c" stroke-width="0.7"/>
<line x1="478.06" x2="478.06" y1="402.4" y2="404.4" stroke="#8c8c8c" stroke-width="0.7"/>
<line x1="524.84" x2="524.84" y1="402.4" y2="404.4" stroke="#8c8c8c" stroke-width="0.7"/>
<line x1="571.62" x2="571.62" y1="402.4" y2="404.4" stroke="#8c8c8c" stroke-width="0.7"/>
<line x1="618.40" x2="618.40" y1="402.4" y2="404.4" stroke="#8c8c8c" stroke-width="0.7"/>
<line x1="665.18" x2="665.18" y1="402.4" y2="404.4" stroke="#8c8c8c" stroke-width="0.7"/>
<g transform="translate(350.60,341.25) rotate(-90)"><text x="0.00" y="0.00" font-size="6.52" fill="#0d0d0d" stroke="#0d0d0d" stroke-width="0.1" text-anchor="middle" textLength="42.08" lengthAdjust="spacingAndGlyphs">Energy (KWh)</text></g>
<text x="384.50" y="409.80" font-size="6.36" fill="#0d0d0d" stroke="#0d0d0d" stroke-width="0.1" text-anchor="middle" textLength="17.43" lengthAdjust="spacingAndGlyphs">02-01</text>
<text x="431.28" y="409.80" font-size="6.36" fill="#0d0d0d" stroke="#0d0d0d" stroke-width="0.1" text-anchor="middle" textLength="17.43" lengthAdjust="spacingAndGlyphs">02-02</text>
<text x="478.06" y="409.80" font-size="6.36" fill="#0d0d0d" stroke="#0d0d0d" stroke-width="0.1" text-anchor="middle" textLength="17.43" lengthAdjust="spacingAndGlyphs">02-03</text>
<text x="524.84" y="409.80" font-size="6.36" fill="#0d0d0d" stroke="#0d0d0d" stroke-width="0.1" text-anchor="middle" textLength="17.43" lengthAdjust="spacingAndGlyphs">02-04</text>
<text x="571.62" y="409.80" font-size="6.36" fill="#0d0d0d" stroke="#0d0d0d" stroke-width="0.1" text-anchor="middle" textLength="17.43" lengthAdjust="spacingAndGlyphs">02-05</text>
<text x="618.40" y="409.80" font-size="6.36" fill="#0d0d0d" stroke="#0d0d0d" stroke-width="0.1" text-anchor="middle" textLength="17.43" lengthAdjust="spacingAndGlyphs">02-06</text>
<text x="665.18" y="409.80" font-size="6.36" fill="#0d0d0d" stroke="#0d0d0d" stroke-width="0.1" text-anchor="middle" textLength="17.43" lengthAdjust="spacingAndGlyphs">02-07</text>
<text x="524.80" y="416.80" font-size="6.36" fill="#0d0d0d" stroke="#0d0d0d" stroke-width="0.1" text-anchor="middle" textLength="14.34" lengthAdjust="spacingAndGlyphs">Date</text>
</svg></body></html>
